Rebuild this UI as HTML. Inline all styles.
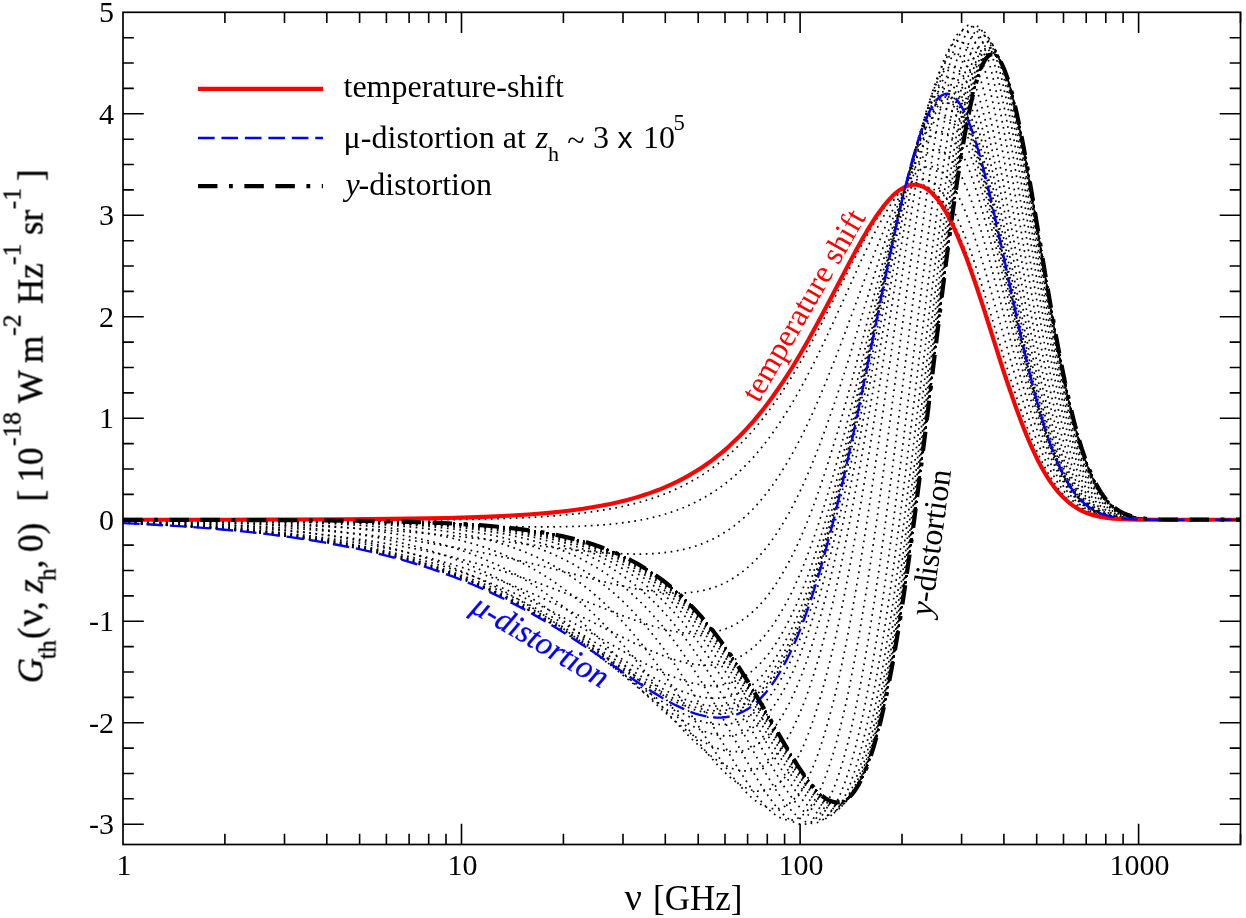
<!DOCTYPE html>
<html><head><meta charset="utf-8"><title>chart</title>
<style>html,body{margin:0;padding:0;background:#fff;overflow:hidden}svg{display:block}</style></head>
<body>
<svg width="1246" height="918" viewBox="0 0 1246 918">
<rect width="1246" height="918" fill="#fff"/>
<defs><clipPath id="c"><rect x="123.0" y="12.3" width="1117.5" height="832.2"/></clipPath></defs>
<g clip-path="url(#c)" fill="none" stroke-linejoin="round">
<g stroke="#000" stroke-width="1.70" stroke-dasharray="1.70 4.55" stroke-dashoffset="0.85">
<path d="M123 523.1l24.3 1.1l23.1 1.3l21.1 1.4l21 1.6l21.1 1.8l18.9 2l19 2.1l16.8 2.2l16.9 2.4l16.8 2.7l16.8 3l14.8 2.9l14.7 3.2l14.7 3.4l8.5 2.2l6.3 1.7l8.4 2.3l6.3 1.8l8.4 2.6l6.3 2l8.5 2.8l6.3 2.1l8.4 3.1l6.3 2.3l12.6 5l8.4 3.5l6.4 2.8l6.3 2.8l6.3 2.9l6.3 3l6.3 3.1l6.3 3.2l6.3 3.3l10.6 5.7l12.6 7.2l12.6 7.5l12.7 7.8l10.5 6.7l10.5 6.9l33.7 22.7l10.5 7l8.4 5.4l8.4 5.3l8.5 5l6.3 3.6l4.2 2.2l4.2 2.1l6.3 3l4.2 1.8l4.2 1.6l4.2 1.5l4.2 1.2l4.3 1.1l4.2 0.8l4.2 0.5l4.2 0.3l4.2 0l2.1-0.1l2.1-0.2l2.1-0.2l2.1-0.4l2.1-0.4l2.1-0.6l2.1-0.6l2.1-0.8l2.1-0.8l2.1-0.9l2.1-1.1l2.2-1.2l2.1-1.2l2.1-1.4l2.1-1.5l2.1-1.7l2.1-1.8l2.1-1.9l2.1-2l2.1-2.2l2.1-2.3l2.1-2.4l2.1-2.6l2.1-2.8l2.1-2.9l2.1-3.1l2.1-3.2l2.1-3.4l2.1-3.6l2.1-3.7l2.1-3.9l2.1-4.1l4.3-8.7l4.2-9.4l4.2-10.2l4.2-10.9l4.2-11.7l2.1-6.1l2.1-6.4l4.2-13.2l4.2-14.1l4.2-14.8l4.2-15.6l4.3-16.3l4.2-17l4.2-17.7l4.2-18.4l4.2-18.9l4.2-19.4l4.2-19.9l6.3-30.4l19-92.9l4.2-20.1l4.2-19.8l4.2-19l4.2-18.4l4.2-17.4l4.2-16.3l2.1-7.7l2.1-7.4l2.1-7.1l2.1-6.6l2.1-6.3l2.2-6l2.1-5.4l2.1-5.1l2.1-4.6l2.1-4.2l2.1-3.7l2.1-3.2l2.1-2.7l2.1-2.2l2.1-1.7l2.1-1.2l2.1-0.7l2.1-0.2l2.1 0.4l2.1 0.9l2.1 1.5l2.1 1.9l2.1 2.5l2.1 3l2.1 3.5l2.2 3.9l2.1 4.5l2.1 4.9l2.1 5.4l2.1 5.9l2.1 6.2l2.1 6.7l2.1 7l2.1 7.4l2.1 7.8l2.1 8l4.2 17l4.2 17.9l4.2 18.6l4.2 19.2l12.7 58.3l4.2 19.1l4.2 18.5l4.2 17.8l4.2 17l4.2 16.1l2.1 7.6l4.2 14.5l2.1 6.8l2.1 6.6l2.1 6.2l2.1 6l2.2 5.7l2.1 5.3l2.1 5.1l2.1 4.8l2.1 4.5l2.1 4.3l2.1 4l2.1 3.7l2.1 3.5l2.1 3.2l2.1 3l2.1 2.8l2.1 2.5l2.1 2.4l2.1 2.2l2.1 1.9l2.1 1.8l2.1 1.7l2.1 1.5l2.1 1.3l2.1 1.2l2.2 1.1l2.1 1l2.1 0.9l2.1 0.8l4.2 1.3l2.1 0.6l4.2 0.9l2.1 0.3l4.2 0.6l6.3 0.7l8.4 0.5l8.5 0.2l10.5 0.2l12.6 0l74.5 0"/>
<path d="M123 523l24.3 1.1l23.1 1.3l21.1 1.4l21 1.6l21.1 1.8l18.9 1.9l19 2.1l16.8 2.2l16.9 2.4l16.8 2.6l16.8 3l14.8 2.9l14.7 3.1l14.7 3.4l8.5 2.2l6.3 1.6l8.4 2.3l6.3 1.8l8.4 2.6l6.3 1.9l8.5 2.8l6.3 2.1l8.4 3l6.3 2.4l12.6 4.9l8.4 3.5l6.4 2.7l6.3 2.8l6.3 2.8l6.3 3l6.3 3.1l6.3 3.1l6.3 3.3l10.6 5.6l12.6 7.1l10.5 6.1l12.7 7.7l10.5 6.6l12.6 8.2l33.7 22.3l10.5 6.8l8.4 5.4l8.4 5.2l8.5 4.9l6.3 3.5l4.2 2.2l4.2 2.1l6.3 2.9l4.2 1.7l4.2 1.6l4.2 1.4l4.2 1.2l4.3 1l4.2 0.8l4.2 0.5l4.2 0.3l4.2-0.1l4.2-0.3l2.1-0.3l2.1-0.4l2.1-0.4l2.1-0.6l2.1-0.6l2.1-0.8l2.1-0.8l2.1-1l2.1-1.1l2.2-1.1l2.1-1.3l2.1-1.4l2.1-1.6l2.1-1.6l2.1-1.8l2.1-1.9l2.1-2l2.1-2.2l2.1-2.3l2.1-2.5l2.1-2.6l2.1-2.8l2.1-2.9l2.1-3l2.1-3.3l2.1-3.3l2.1-3.6l2.1-3.7l2.1-3.9l2.1-4.1l4.3-8.7l4.2-9.3l4.2-10.2l4.2-10.9l4.2-11.6l2.1-6.2l2.1-6.3l4.2-13.2l4.2-13.9l4.2-14.8l4.2-15.5l4.3-16.2l4.2-16.9l4.2-17.6l6.3-27.6l4.2-19l4.2-19.5l8.4-40.2l19-92.1l4.2-20l4.2-19.6l4.2-18.9l4.2-18.2l4.2-17.2l4.2-16.2l2.1-7.6l2.1-7.3l2.1-7l2.1-6.6l2.1-6.2l2.2-5.8l2.1-5.5l2.1-4.9l2.1-4.6l2.1-4.1l2.1-3.6l2.1-3.2l2.1-2.6l2.1-2.2l2.1-1.7l2.1-1.1l2.1-0.6l2.1-0.1l2.1 0.4l2.1 0.9l2.1 1.5l2.1 2l2.1 2.5l2.1 3l2.1 3.5l2.2 4l2.1 4.5l2.1 4.9l2.1 5.4l2.1 5.8l2.1 6.3l2.1 6.7l2.1 7l2.1 7.4l2.1 7.7l2.1 8l4.2 17l4.2 17.8l4.2 18.6l4.2 19.1l12.7 58.1l4.2 18.9l4.2 18.5l4.2 17.7l4.2 16.9l4.2 16l2.1 7.6l4.2 14.5l2.1 6.8l2.1 6.5l2.1 6.2l2.1 5.9l2.2 5.6l2.1 5.4l2.1 5l2.1 4.8l2.1 4.5l2.1 4.3l2.1 3.9l2.1 3.7l2.1 3.5l2.1 3.2l2.1 3l2.1 2.7l2.1 2.6l2.1 2.3l2.1 2.2l2.1 1.9l2.1 1.8l2.1 1.7l2.1 1.4l2.1 1.4l2.1 1.2l2.2 1.1l2.1 1l2.1 0.8l2.1 0.8l4.2 1.3l2.1 0.6l4.2 0.9l2.1 0.3l4.2 0.6l6.3 0.7l8.4 0.5l8.5 0.2l10.5 0.2l12.6 0l74.5 0"/>
<path d="M123 523l24.3 1.1l23.1 1.2l21.1 1.4l21 1.5l21.1 1.8l18.9 1.9l19 2.1l16.8 2.1l16.9 2.3l16.8 2.6l16.8 2.9l14.8 2.8l14.7 3.1l14.7 3.4l14.8 3.7l8.4 2.3l6.3 1.7l8.4 2.5l6.3 2l8.5 2.6l6.3 2.2l8.4 2.9l6.3 2.3l12.6 4.8l8.4 3.4l6.4 2.7l6.3 2.7l6.3 2.8l6.3 2.9l6.3 3l12.6 6.3l10.6 5.5l12.6 6.9l10.5 6.1l12.7 7.5l10.5 6.4l12.6 8l31.6 20.4l10.5 6.7l8.4 5.3l8.4 5.1l8.5 4.8l6.3 3.4l4.2 2.2l4.2 2.1l6.3 2.9l4.2 1.7l4.2 1.6l4.2 1.4l4.2 1.3l4.3 1l4.2 0.8l4.2 0.6l4.2 0.3l4.2 0.1l4.2-0.3l2.1-0.2l2.1-0.3l2.1-0.4l2.1-0.5l2.1-0.6l2.1-0.7l2.1-0.7l2.1-0.9l2.1-1l2.1-1.1l2.2-1.2l2.1-1.3l2.1-1.4l2.1-1.6l2.1-1.6l2.1-1.8l2.1-1.9l2.1-2.1l2.1-2.2l2.1-2.3l2.1-2.4l2.1-2.7l2.1-2.7l2.1-2.9l2.1-3.1l2.1-3.2l2.1-3.4l2.1-3.5l2.1-3.8l2.1-3.8l4.3-8.3l4.2-9l4.2-9.7l4.2-10.5l4.2-11.2l4.2-11.9l2.1-6.3l4.2-13.1l4.2-13.9l4.2-14.6l4.2-15.3l4.3-16.1l4.2-16.8l4.2-17.4l6.3-27.2l4.2-18.9l4.2-19.3l8.4-39.7l19-90.9l4.2-19.8l4.2-19.2l4.2-18.7l4.2-17.9l4.2-16.9l4.2-15.9l2.1-7.5l2.1-7.2l2.1-6.8l2.1-6.5l2.1-6.1l2.2-5.7l2.1-5.3l2.1-4.9l2.1-4.4l2.1-4l2.1-3.5l2.1-3.1l2.1-2.6l2.1-2l2.1-1.6l2.1-1.1l2.1-0.5l2.1-0.1l2.1 0.5l2.1 1l2.1 1.5l2.1 2.1l2.1 2.5l2.1 3.1l2.1 3.5l2.2 4l2.1 4.5l2.1 5l2.1 5.4l2.1 5.8l2.1 6.3l2.1 6.6l2.1 7l2.1 7.4l4.2 15.7l4.2 16.9l4.2 17.7l4.2 18.5l4.2 19l12.7 57.7l4.2 18.9l4.2 18.2l4.2 17.7l4.2 16.8l4.2 15.8l2.1 7.6l4.2 14.3l2.1 6.7l2.1 6.4l2.1 6.2l2.1 5.9l2.2 5.6l2.1 5.3l2.1 5l2.1 4.7l2.1 4.5l2.1 4.2l2.1 3.9l2.1 3.7l2.1 3.4l2.1 3.2l2.1 2.9l2.1 2.8l2.1 2.5l2.1 2.3l2.1 2.1l2.1 2l2.1 1.8l2.1 1.6l2.1 1.4l2.1 1.4l2.1 1.2l2.2 1.1l2.1 0.9l2.1 0.9l2.1 0.8l4.2 1.3l2.1 0.5l4.2 0.9l2.1 0.4l4.2 0.6l6.3 0.6l8.4 0.5l8.5 0.2l10.5 0.2l12.6 0l74.5 0"/>
<path d="M123 522.9l22.2 0.9l23.1 1.2l21.1 1.3l21 1.5l21.1 1.7l18.9 1.8l19 2l16.8 2l16.9 2.2l16.8 2.5l16.8 2.8l14.8 2.7l14.7 2.9l14.7 3.2l14.8 3.6l8.4 2.1l6.3 1.7l8.4 2.4l6.3 1.8l8.4 2.6l6.4 2l8.4 2.8l6.3 2.2l12.6 4.6l8.4 3.3l6.4 2.5l12.6 5.3l12.6 5.7l12.6 6l10.6 5.2l12.6 6.7l10.5 5.7l12.6 7.2l10.6 6.2l12.6 7.6l33.7 20.8l10.5 6.5l8.4 5l8.4 4.8l8.5 4.6l6.3 3.3l4.2 2l4.2 2l6.3 2.6l4.2 1.7l4.2 1.4l4.2 1.3l4.2 1.2l4.3 0.9l4.2 0.7l4.2 0.5l4.2 0.2l4.2-0.1l4.2-0.3l2.1-0.3l2.1-0.4l2.1-0.4l2.1-0.5l2.1-0.7l2.1-0.7l2.1-0.8l2.1-0.9l2.1-1l2.1-1.2l2.2-1.2l2.1-1.3l2.1-1.5l2.1-1.5l2.1-1.7l2.1-1.8l2.1-2l2.1-2l2.1-2.2l2.1-2.4l2.1-2.4l2.1-2.7l2.1-2.7l2.1-2.9l2.1-3.1l2.1-3.2l2.1-3.4l2.1-3.5l2.1-3.7l2.1-3.9l4.3-8.2l4.2-8.9l4.2-9.6l4.2-10.4l4.2-11.1l4.2-11.8l2.1-6.2l4.2-12.9l4.2-13.7l4.2-14.4l4.2-15.1l4.3-15.8l4.2-16.5l4.2-17.1l6.3-26.8l4.2-18.5l4.2-19l8.4-38.9l19-89l4.2-19.3l4.2-18.7l4.2-18.2l4.2-17.4l4.2-16.5l4.2-15.5l2.1-7.3l2.1-6.9l2.1-6.6l2.1-6.3l2.1-5.9l2.2-5.5l2.1-5.1l2.1-4.7l2.1-4.3l2.1-3.8l2.1-3.3l2.1-2.9l2.1-2.4l2.1-1.9l2.1-1.5l2.1-0.9l2.1-0.4l2.1 0.1l2.1 0.5l2.1 1.1l2.1 1.6l2.1 2.2l2.1 2.6l2.1 3.1l2.1 3.6l2.2 4l2.1 4.6l2.1 4.9l2.1 5.5l2.1 5.8l2.1 6.3l2.1 6.6l2.1 7l2.1 7.3l4.2 15.7l4.2 16.7l4.2 17.6l4.2 18.4l16.9 75.8l4.2 18.6l4.2 18.1l4.2 17.4l4.2 16.6l4.2 15.6l2.1 7.5l4.2 14.1l2.1 6.6l2.1 6.4l2.1 6l2.1 5.8l2.2 5.5l2.1 5.3l2.1 4.9l2.1 4.7l2.1 4.4l2.1 4.1l2.1 3.9l2.1 3.6l2.1 3.3l2.1 3.2l2.1 2.9l2.1 2.7l2.1 2.5l2.1 2.2l2.1 2.1l2.1 1.9l2.1 1.8l2.1 1.6l2.1 1.4l2.1 1.3l2.1 1.2l2.2 1.1l2.1 0.9l2.1 0.9l2.1 0.8l4.2 1.2l2.1 0.6l4.2 0.8l2.1 0.4l4.2 0.6l6.3 0.6l8.4 0.5l8.5 0.2l10.5 0.2l12.6 0l74.5 0"/>
<path d="M123 522.7l22.2 0.9l23.1 1.2l21.1 1.2l21 1.4l21.1 1.6l18.9 1.7l19 1.9l16.8 1.9l16.9 2.1l16.8 2.3l16.8 2.6l14.8 2.6l14.7 2.8l14.7 3l14.8 3.4l12.6 3.1l8.4 2.2l6.3 1.7l8.4 2.4l6.4 1.9l8.4 2.6l6.3 2l12.6 4.3l8.4 3l6.4 2.4l12.6 5l12.6 5.2l12.6 5.6l10.6 4.9l12.6 6.2l10.5 5.3l12.6 6.7l10.6 5.8l12.6 7.1l42.1 24.1l8.4 4.7l8.4 4.6l8.4 4.3l8.5 4l4.2 1.9l4.2 1.8l6.3 2.5l4.2 1.5l4.2 1.3l4.2 1.2l4.2 1l4.2 0.8l4.3 0.7l4.2 0.4l4.2 0.1l4.2 0l4.2-0.4l4.2-0.7l2.1-0.4l2.1-0.5l2.1-0.6l2.1-0.7l2.1-0.8l2.1-0.9l2.1-1l2.1-1.1l2.1-1.1l2.2-1.3l2.1-1.4l2.1-1.5l2.1-1.6l2.1-1.7l2.1-1.9l2.1-1.9l2.1-2.1l2.1-2.3l2.1-2.3l2.1-2.5l2.1-2.6l2.1-2.8l2.1-2.9l2.1-3l2.1-3.3l2.1-3.3l4.2-7.2l4.2-7.8l4.3-8.5l4.2-9.1l4.2-9.8l4.2-10.6l4.2-11.2l2.1-5.9l4.2-12.3l4.2-13l4.2-13.7l4.2-14.4l4.2-15.1l4.3-15.7l4.2-16.4l4.2-16.9l4.2-17.5l4.2-17.9l4.2-18.3l8.4-37.7l16.9-76.4l6.3-27.9l4.2-18.1l4.2-17.4l4.2-16.6l4.2-15.8l4.2-14.7l2.1-6.9l2.1-6.6l2.1-6.3l2.1-5.9l2.1-5.6l2.2-5.1l2.1-4.8l2.1-4.4l2.1-4l2.1-3.5l2.1-3l2.1-2.7l2.1-2.1l2.1-1.7l2.1-1.2l2.1-0.7l2.1-0.2l2.1 0.3l2.1 0.7l2.1 1.3l2.1 1.7l2.1 2.3l2.1 2.7l2.1 3.2l2.1 3.7l2.2 4.1l2.1 4.6l2.1 5l2.1 5.5l2.1 5.8l2.1 6.2l2.1 6.7l2.1 6.9l2.1 7.3l4.2 15.5l4.2 16.6l4.2 17.4l4.2 18l16.9 74.6l4.2 18.2l4.2 17.7l4.2 17l4.2 16.2l4.2 15.3l2.1 7.3l4.2 13.8l2.1 6.5l2.1 6.2l2.1 5.9l2.1 5.7l2.2 5.4l2.1 5.1l2.1 4.8l2.1 4.5l2.1 4.3l2.1 4l2.1 3.8l2.1 3.5l2.1 3.3l2.1 3.1l2.1 2.8l2.1 2.6l2.1 2.4l2.1 2.3l2.1 2l2.1 1.9l2.1 1.7l2.1 1.5l2.1 1.4l2.1 1.3l2.1 1.2l2.2 1l2.1 0.9l2.1 0.9l2.1 0.7l4.2 1.2l2.1 0.6l4.2 0.8l2.1 0.4l4.2 0.5l6.3 0.6l8.4 0.5l8.5 0.2l10.5 0.2l12.6 0l74.5 0"/>
<path d="M123 522.4l22.2 0.9l21 0.9l21.1 1.1l21 1.2l19 1.3l18.9 1.5l19 1.7l16.8 1.7l16.8 1.8l14.8 1.8l16.8 2.3l14.7 2.2l14.8 2.4l14.7 2.7l14.7 2.9l12.7 2.7l14.7 3.4l14.7 3.7l14.8 4.1l12.6 3.7l8.4 2.7l6.3 2l12.7 4.4l12.6 4.5l12.6 4.9l10.5 4.3l12.7 5.4l12.6 5.6l12.6 5.9l10.6 5.1l10.5 5.1l44.2 22.3l8.4 4.1l8.4 4l8.4 3.7l8.5 3.6l4.2 1.6l4.2 1.6l6.3 2.1l4.2 1.3l4.2 1.1l4.2 1.1l4.2 0.8l4.2 0.7l4.2 0.5l4.3 0.3l4.2 0.2l4.2-0.2l4.2-0.3l4.2-0.7l2.1-0.4l4.2-1.1l4.2-1.3l4.2-1.7l2.1-1l2.1-1.1l2.1-1.2l2.1-1.2l2.2-1.4l2.1-1.5l2.1-1.6l2.1-1.6l2.1-1.8l2.1-1.9l2.1-2l2.1-2.2l2.1-2.2l2.1-2.4l2.1-2.5l2.1-2.7l2.1-2.7l2.1-2.9l4.2-6.3l4.2-6.8l4.2-7.4l4.3-7.9l4.2-8.7l4.2-9.2l4.2-9.9l4.2-10.6l4.2-11.2l4.2-11.9l4.2-12.5l4.2-13.2l4.2-13.8l4.2-14.4l4.3-15.1l4.2-15.6l6.3-24.3l4.2-16.8l4.2-17.3l8.4-35.3l19-80.8l4.2-17.5l4.2-17l4.2-16.5l4.2-15.8l4.2-15l4.2-14.1l2.1-6.6l2.1-6.3l2.1-6l2.1-5.7l2.1-5.4l2.1-5l2.2-4.6l2.1-4.3l2.1-3.8l2.1-3.5l2.1-3l2.1-2.7l2.1-2.1l2.1-1.8l2.1-1.2l2.1-0.9l2.1-0.3l2.1 0.1l2.1 0.6l2.1 1l2.1 1.6l2.1 2l2.1 2.4l2.1 2.9l2.1 3.4l2.1 3.8l2.2 4.2l2.1 4.7l2.1 5.1l2.1 5.5l2.1 5.8l2.1 6.3l2.1 6.5l2.1 7l4.2 14.7l4.2 15.8l4.2 16.6l4.2 17.4l4.2 17.8l14.8 63.4l6.3 26.3l4.2 16.8l4.2 16l4.2 15.2l2.1 7.2l4.2 13.8l2.1 6.5l2.1 6.2l2.1 6l2.1 5.7l2.1 5.4l2.2 5.2l2.1 4.9l2.1 4.6l2.1 4.4l2.1 4.1l2.1 3.8l2.1 3.6l2.1 3.4l2.1 3.2l2.1 2.9l2.1 2.7l2.1 2.5l2.1 2.3l2.1 2.1l2.1 2l2.1 1.8l2.1 1.6l2.1 1.5l2.1 1.3l2.1 1.3l2.1 1.1l2.2 0.9l2.1 0.9l2.1 0.8l2.1 0.7l4.2 1.2l2.1 0.5l4.2 0.8l2.1 0.4l4.2 0.5l6.3 0.6l8.4 0.4l8.5 0.3l10.5 0.1l12.6 0l74.5 0"/>
<path d="M123 522l20.1 0.6l21 0.8l19 0.8l18.9 0.9l19 1.1l16.8 1l16.8 1.2l16.9 1.3l16.8 1.4l14.8 1.4l14.7 1.6l14.7 1.7l14.8 1.9l12.6 1.7l14.7 2.2l12.6 2.1l14.8 2.6l14.7 2.8l14.7 3.1l12.7 2.9l14.7 3.6l12.6 3.3l14.8 4.1l12.6 3.8l10.5 3.3l12.6 4.2l12.7 4.3l12.6 4.6l10.5 4l12.7 4.8l46.3 18.3l8.4 3.2l8.4 3.1l8.4 2.9l8.4 2.7l8.5 2.5l6.3 1.6l6.3 1.4l4.2 0.9l6.3 1l4.2 0.4l4.2 0.4l4.2 0.2l4.2 0l4.3-0.2l4.2-0.3l4.2-0.6l4.2-0.9l2.1-0.5l4.2-1.2l4.2-1.4l4.2-1.8l2.1-1l4.2-2.2l2.1-1.2l4.2-2.8l4.3-3.1l4.2-3.5l4.2-3.8l2.1-2.1l4.2-4.6l4.2-4.9l4.2-5.5l4.2-5.9l4.2-6.4l4.2-7l4.2-7.5l4.3-8l4.2-8.6l4.2-9.2l4.2-9.7l2.1-5.1l4.2-10.6l4.2-11.2l4.2-11.8l4.2-12.4l4.2-12.8l4.2-13.5l4.3-13.9l4.2-14.4l4.2-14.8l4.2-15.3l4.2-15.5l8.4-31.9l16.9-64.9l6.3-23.7l4.2-15.3l4.2-14.9l4.2-14.2l4.2-13.4l4.2-12.6l2.1-5.9l2.1-5.7l2.1-5.4l2.1-5.1l2.1-4.8l2.1-4.4l2.1-4.2l2.2-3.7l2.1-3.5l2.1-3l2.1-2.7l2.1-2.3l2.1-1.9l2.1-1.4l2.1-1.1l2.1-0.6l2.1-0.3l2.1 0.3l2.1 0.6l2.1 1.1l2.1 1.5l2.1 1.9l2.1 2.4l2.1 2.8l2.1 3.2l2.1 3.6l2.1 4.1l2.2 4.4l2.1 4.8l2.1 5.2l2.1 5.5l2.1 5.9l2.1 6.2l2.1 6.5l2.1 6.8l4.2 14.5l4.2 15.3l4.2 16.2l4.2 16.7l16.9 68.9l4.2 16.9l4.2 16.5l4.2 15.8l4.2 15.1l4.2 14.2l2.1 6.9l4.2 12.8l2.1 6.1l2.1 5.9l2.1 5.5l2.1 5.4l2.1 5l2.2 4.9l2.1 4.5l2.1 4.3l2.1 4.1l2.1 3.8l2.1 3.6l2.1 3.4l2.1 3.1l2.1 2.9l2.1 2.8l2.1 2.5l2.1 2.3l2.1 2.2l2.1 1.9l2.1 1.8l2.1 1.7l2.1 1.5l2.1 1.4l2.1 1.2l2.1 1.2l2.1 1l2.2 0.9l2.1 0.8l2.1 0.7l4.2 1.3l2.1 0.5l4.2 0.9l2.1 0.3l4.2 0.6l6.3 0.6l8.4 0.5l8.5 0.2l10.5 0.2l12.6 0l76.6 0"/>
<path d="M123 521.4l22.2 0.5l21 0.6l21.1 0.7l18.9 0.7l19 0.8l18.9 0.9l19 1l16.8 1l16.8 1.1l14.8 1.1l16.8 1.4l14.7 1.3l14.8 1.5l14.7 1.6l14.7 1.7l12.7 1.6l12.6 1.7l10.5 1.6l10.5 1.6l10.6 1.7l10.5 1.8l10.5 2l10.5 2l10.6 2.1l10.5 2.2l10.5 2.3l10.5 2.4l12.7 2.9l21 5.2l46.3 11.8l10.5 2.6l10.6 2.4l10.5 2.3l10.5 2l6.3 1l4.2 0.6l8.5 1.1l4.2 0.3l4.2 0.3l4.2 0.2l4.2 0.1l4.2 0l4.2-0.2l4.2-0.2l4.2-0.5l4.2-0.6l4.3-0.7l4.2-0.9l2.1-0.6l4.2-1.2l4.2-1.4l4.2-1.7l2.1-0.9l4.2-2l2.1-1.1l4.2-2.4l4.2-2.7l2.1-1.5l4.2-3.1l4.3-3.5l2.1-1.9l4.2-3.9l4.2-4.3l4.2-4.7l4.2-5.1l2.1-2.7l4.2-5.7l4.2-6.1l4.2-6.6l4.2-7l4.3-7.4l4.2-7.9l4.2-8.4l4.2-8.9l4.2-9.3l4.2-9.8l4.2-10.3l4.2-10.7l4.2-11.2l4.2-11.6l4.2-12.1l4.3-12.4l4.2-12.7l4.2-13.1l4.2-13.4l8.4-27.4l16.8-55.4l4.3-13.6l4.2-13.3l6.3-19.2l4.2-12.2l4.2-11.5l4.2-10.8l2.1-5l2.1-4.9l2.1-4.6l2.1-4.4l2.1-4.1l2.1-3.8l2.1-3.5l2.1-3.3l2.1-2.9l2.2-2.6l2.1-2.3l2.1-2l2.1-1.6l2.1-1.2l2.1-0.9l2.1-0.6l2.1-0.1l2.1 0.2l2.1 0.6l2.1 1l2.1 1.4l2.1 1.7l2.1 2.1l2.1 2.6l2.1 2.8l2.1 3.3l2.1 3.6l2.1 4l2.1 4.3l2.2 4.7l2.1 5l2.1 5.3l2.1 5.6l2.1 5.9l2.1 6.2l2.1 6.5l4.2 13.6l4.2 14.4l4.2 15.1l4.2 15.6l16.9 64.5l4.2 15.8l4.2 15.4l4.2 14.8l4.2 14.2l4.2 13.4l2.1 6.4l4.2 12.2l2.1 5.7l2.1 5.6l2.1 5.2l2.1 5.1l2.1 4.8l2.1 4.6l2.2 4.3l2.1 4.2l2.1 3.9l2.1 3.6l2.1 3.5l2.1 3.2l2.1 3l2.1 2.8l2.1 2.7l2.1 2.4l2.1 2.3l2.1 2l2.1 2l2.1 1.7l2.1 1.6l2.1 1.5l2.1 1.4l2.1 1.2l2.1 1.1l2.1 1l2.1 0.9l4.3 1.6l2.1 0.6l4.2 1.1l2.1 0.5l4.2 0.7l6.3 0.9l6.3 0.5l8.4 0.4l8.5 0.3l10.5 0.1l12.6 0l76.6 0"/>
<path d="M123 520.8l36.9 0.5l35.8 0.7l33.7 0.9l31.6 1l29.4 1.1l27.4 1.2l27.3 1.4l25.3 1.6l21.1 1.4l18.9 1.5l18.9 1.6l19 1.8l21 2.1l23.2 2.6l21 2.4l46.3 5.6l21.1 2.3l12.6 1.3l10.5 0.9l10.6 0.7l10.5 0.5l6.3 0.1l6.3 0.1l6.3-0.1l6.3-0.2l6.4-0.4l4.2-0.4l6.3-0.7l4.2-0.6l6.3-1.1l4.2-0.8l4.2-1l4.2-1.2l4.2-1.2l4.2-1.4l4.3-1.6l4.2-1.8l4.2-1.9l2.1-1l4.2-2.2l4.2-2.4l2.1-1.3l4.2-2.7l4.2-3l2.1-1.5l4.2-3.4l4.2-3.6l2.2-1.9l4.2-4l4.2-4.2l2.1-2.3l4.2-4.7l4.2-5.1l4.2-5.3l4.2-5.7l2.1-3l4.2-6.2l4.2-6.6l4.2-6.9l4.3-7.3l4.2-7.7l4.2-8l4.2-8.4l4.2-8.7l4.2-9.1l4.2-9.4l6.3-14.8l4.2-10.2l4.2-10.6l4.3-10.7l4.2-11l8.4-22.5l18.9-51.5l4.2-11.2l4.2-11l6.4-15.8l4.2-10.1l4.2-9.5l4.2-8.9l2.1-4.2l2.1-4l2.1-3.8l2.1-3.7l2.1-3.4l2.1-3.2l2.1-2.9l2.1-2.7l2.1-2.5l2.1-2.2l2.1-1.9l2.1-1.6l2.2-1.4l2.1-1l2.1-0.8l2.1-0.4l2.1-0.1l2.1 0.2l2.1 0.5l2.1 0.8l2.1 1.2l2.1 1.5l2.1 1.8l2.1 2.2l2.1 2.5l2.1 2.8l2.1 3.1l2.1 3.5l2.1 3.7l2.1 4.1l2.1 4.4l2.1 4.6l2.2 4.9l2.1 5.2l2.1 5.5l4.2 11.6l4.2 12.6l4.2 13.2l4.2 13.9l4.2 14.4l4.2 14.8l14.8 52.4l6.3 21.7l4.2 14l4.2 13.4l4.2 12.7l4.2 12.1l4.2 11.2l4.2 10.5l2.1 4.9l2.1 4.7l2.1 4.5l2.1 4.2l2.1 4.1l2.2 3.8l2.1 3.6l2.1 3.5l2.1 3.2l2.1 3l2.1 2.8l2.1 2.7l2.1 2.5l2.1 2.3l2.1 2.1l2.1 2l2.1 1.8l2.1 1.7l2.1 1.5l2.1 1.4l2.1 1.3l2.1 1.2l2.1 1l2.1 1l2.1 0.9l4.3 1.5l2.1 0.6l4.2 1.1l4.2 0.8l4.2 0.6l6.3 0.8l6.3 0.4l8.4 0.4l8.5 0.2l23.1 0.1l76.6 0"/>
<path d="M123 520.2l51.7 0.3l46.3 0.4l44.2 0.5l42.1 0.6l31.5 0.6l31.6 0.7l35.8 0.8l73.7 1.9l18.9 0.4l16.8 0.3l14.8 0.1l14.7 0.1l12.6-0.1l10.6-0.2l10.5-0.3l8.4-0.4l8.4-0.5l8.4-0.6l8.5-0.8l8.4-0.9l8.4-1.2l6.3-1l8.4-1.5l6.3-1.4l6.4-1.5l6.3-1.7l6.3-2l6.3-2.1l6.3-2.4l4.2-1.7l6.3-2.9l6.3-3.1l6.4-3.5l4.2-2.5l6.3-4l6.3-4.5l6.3-4.8l4.2-3.5l6.3-5.6l4.2-4.1l4.3-4.2l2.1-2.2l4.2-4.6l4.2-4.8l2.1-2.5l4.2-5.2l4.2-5.5l4.2-5.7l6.3-9l4.2-6.4l4.2-6.7l4.3-6.9l4.2-7.2l4.2-7.4l4.2-7.7l6.3-12l4.2-8.3l4.2-8.5l4.2-8.7l6.3-13.5l8.5-18.3l18.9-42.1l6.3-13.7l4.2-8.9l4.2-8.7l4.2-8.3l4.3-8l4.2-7.5l4.2-7.1l2.1-3.2l2.1-3.2l2.1-3l2.1-2.8l2.1-2.6l2.1-2.4l2.1-2.2l2.1-2.1l2.1-1.8l2.1-1.6l2.1-1.3l2.1-1.2l2.1-0.9l2.1-0.6l2.1-0.4l2.2-0.1l2.1 0.1l2.1 0.4l2.1 0.7l2.1 1l2.1 1.2l2.1 1.5l2.1 1.8l2.1 2.1l2.1 2.3l2.1 2.7l2.1 2.9l2.1 3.2l2.1 3.4l2.1 3.8l2.1 3.9l2.1 4.3l2.1 4.5l2.1 4.7l2.1 5l4.3 10.6l4.2 11.3l2.1 6l4.2 12.4l4.2 13l4.2 13.4l4.2 13.7l14.7 48.7l4.3 13.7l4.2 13.3l4.2 12.8l4.2 12.3l4.2 11.8l4.2 11l4.2 10.4l4.2 9.6l2.1 4.5l2.1 4.3l2.1 4.1l2.1 4l2.1 3.7l2.1 3.5l2.2 3.4l2.1 3.2l2.1 2.9l2.1 2.8l2.1 2.7l2.1 2.4l2.1 2.3l2.1 2.1l2.1 2l2.1 1.9l2.1 1.7l2.1 1.5l2.1 1.5l2.1 1.3l2.1 1.2l2.1 1.1l2.1 1l4.2 1.7l2.1 0.8l4.3 1.2l2.1 0.6l4.2 0.9l2.1 0.4l4.2 0.6l6.3 0.7l6.3 0.4l8.4 0.4l10.6 0.2l23.1 0.1l76.6 0"/>
<path d="M123 519.8l215.8 0.3l44.2 0l33.7-0.1l33.7-0.3l29.5-0.5l25.2-0.7l12.6-0.5l10.6-0.5l12.6-0.7l10.5-0.7l10.5-0.9l10.6-1l10.5-1.2l8.4-1.1l10.5-1.6l8.4-1.4l8.5-1.6l8.4-1.9l8.4-2.1l6.3-1.7l8.4-2.6l6.4-2.1l4.2-1.5l4.2-1.6l6.3-2.6l6.3-2.9l6.3-3l6.3-3.4l6.3-3.6l6.4-3.9l6.3-4.2l6.3-4.6l4.2-3.2l6.3-5.2l4.2-3.7l6.3-5.9l4.2-4.1l6.4-6.6l4.2-4.6l6.3-7.4l4.2-5.1l6.3-8.2l4.2-5.7l4.2-6l4.2-6.1l4.2-6.4l6.4-10l4.2-6.9l6.3-10.8l4.2-7.4l4.2-7.7l4.2-7.8l6.3-11.9l10.5-20.6l19-37.6l6.3-12.2l4.2-8l4.2-7.7l4.2-7.5l4.2-7.2l4.3-6.7l4.2-6.4l2.1-2.9l2.1-2.9l2.1-2.7l2.1-2.5l2.1-2.4l2.1-2.3l2.1-2l2.1-1.9l2.1-1.7l2.1-1.5l2.1-1.3l2.1-1.1l2.1-0.8l2.1-0.7l2.1-0.4l2.1-0.2l2.1 0l2.1 0.3l2.2 0.5l2.1 0.8l2.1 1l2.1 1.3l2.1 1.5l2.1 1.8l2.1 2l2.1 2.3l2.1 2.6l2.1 2.8l2.1 3.1l2.1 3.3l2.1 3.5l2.1 3.8l2.1 4.1l2.1 4.3l2.1 4.5l2.1 4.7l4.2 10l4.3 10.8l2.1 5.7l4.2 11.8l4.2 12.4l6.3 19.3l18.9 60.2l6.4 19.6l4.2 12.6l4.2 12.2l4.2 11.6l4.2 11l4.2 10.3l2.1 4.9l4.2 9.3l2.1 4.4l2.1 4.2l2.1 4l2.1 3.8l2.1 3.7l2.1 3.4l2.1 3.3l2.2 3.1l2.1 2.9l2.1 2.7l2.1 2.6l2.1 2.4l2.1 2.3l2.1 2.1l2.1 1.9l2.1 1.8l2.1 1.7l2.1 1.6l2.1 1.4l2.1 1.3l2.1 1.2l2.1 1.1l2.1 1l4.2 1.8l2.1 0.7l4.2 1.3l2.2 0.5l4.2 1l2.1 0.4l4.2 0.6l6.3 0.7l6.3 0.5l8.4 0.4l10.5 0.2l23.2 0.1l78.7 0"/>
<path d="M123 522.1l24.3 0.9l23.1 1.1l23.2 1.3l21 1.4l21.1 1.7l18.9 1.8l19 2l10.5 1.3l8.4 1.1l10.6 1.4l8.4 1.3l8.4 1.3l8.4 1.4l8.4 1.5l8.4 1.6l14.8 3l14.7 3.3l8.4 2.1l6.3 1.6l8.5 2.2l6.3 1.8l8.4 2.5l6.3 1.9l8.4 2.8l6.3 2.1l6.4 2.2l6.3 2.4l8.4 3.2l6.3 2.5l6.3 2.6l6.3 2.7l8.5 3.8l6.3 3l6.3 3l6.3 3.1l6.3 3.3l6.3 3.4l6.3 3.4l6.4 3.6l10.5 6.1l6.3 3.9l6.3 3.9l10.5 6.8l12.7 8.4l10.5 7.3l12.6 9l10.5 7.7l23.2 17l10.5 7.6l8.4 5.9l8.5 5.8l8.4 5.4l6.3 3.8l4.2 2.5l4.2 2.3l6.3 3.1l4.2 2l4.2 1.7l4.2 1.5l4.3 1.4l4.2 1.1l4.2 0.8l4.2 0.6l2.1 0.1l4.2 0.2l2.1-0.1l2.1-0.2l2.1-0.2l2.1-0.3l2.1-0.4l2.1-0.6l2.1-0.6l2.1-0.7l2.1-0.9l2.1-0.9l2.2-1.1l2.1-1.2l2.1-1.3l2.1-1.4l2.1-1.5l2.1-1.7l2.1-1.9l2.1-1.9l2.1-2.1l2.1-2.3l2.1-2.4l2.1-2.5l2.1-2.7l2.1-2.9l2.1-3l2.1-3.2l2.1-3.4l2.1-3.5l2.1-3.8l2.1-3.8l2.1-4.1l2.2-4.3l4.2-9.1l4.2-9.8l4.2-10.7l4.2-11.4l4.2-12.3l2.1-6.4l2.1-6.6l4.2-13.9l4.2-14.7l4.2-15.5l4.2-16.3l4.3-17.1l4.2-17.7l4.2-18.5l6.3-28.9l4.2-19.9l4.2-20.4l8.4-42l16.9-85.3l6.3-31.2l4.2-20.1l4.2-19.5l4.2-18.6l4.2-17.7l4.2-16.4l2.1-7.7l2.1-7.4l2.1-7.1l2.1-6.6l2.2-6.2l2.1-5.8l2.1-5.4l2.1-4.9l2.1-4.5l2.1-4l2.1-3.4l2.1-3l2.1-2.5l2.1-1.9l2.1-1.5l2.1-0.8l2.1-0.4l2.1 0.2l2.1 0.8l2.1 1.2l2.1 1.8l2.1 2.4l2.1 2.9l2.1 3.4l2.2 3.9l2.1 4.4l2.1 4.9l2.1 5.3l2.1 5.8l2.1 6.3l2.1 6.6l2.1 7.1l2.1 7.4l2.1 7.8l4.2 16.6l4.2 17.6l4.2 18.5l4.2 19.2l14.8 69l4.2 19.3l4.2 18.9l4.2 18.2l4.2 17.3l4.2 16.4l2.1 7.8l4.2 14.8l2.1 6.9l2.1 6.7l2.1 6.4l2.1 6.1l2.2 5.8l2.1 5.5l2.1 5.2l2.1 4.9l2.1 4.6l2.1 4.3l2.1 4.1l2.1 3.8l2.1 3.6l2.1 3.3l2.1 3l2.1 2.9l2.1 2.6l2.1 2.4l2.1 2.2l2.1 2l2.1 1.9l2.1 1.7l2.1 1.5l2.1 1.4l2.1 1.2l2.2 1.1l2.1 1l2.1 1l2.1 0.8l4.2 1.3l2.1 0.6l4.2 0.9l2.1 0.4l4.2 0.6l6.3 0.7l4.2 0.2l4.2 0.3l8.5 0.2l10.5 0.2l12.6 0l74.5 0"/>
<path d="M123 521l28.5 0.8l25.3 0.8l23.1 1l23.2 1.2l21 1.4l10.5 0.8l10.6 0.9l18.9 1.9l10.5 1.1l8.5 1l10.5 1.4l8.4 1.2l8.4 1.3l8.4 1.3l8.5 1.5l8.4 1.5l8.4 1.7l6.3 1.3l8.4 1.9l6.3 1.5l8.5 2.1l6.3 1.7l8.4 2.3l6.3 1.9l8.4 2.6l6.3 2l8.5 2.9l6.3 2.3l6.3 2.4l6.3 2.5l8.4 3.5l6.3 2.7l6.3 2.8l6.4 3l6.3 3.1l6.3 3.2l6.3 3.3l6.3 3.4l6.3 3.6l6.3 3.7l6.4 3.8l6.3 3.9l10.5 6.8l6.3 4.3l6.3 4.4l10.6 7.5l6.3 4.7l6.3 4.7l10.5 8.2l10.5 8.3l10.6 8.6l23.1 18.9l10.5 8.5l8.4 6.6l8.5 6.4l8.4 6l6.3 4.3l6.3 3.9l6.3 3.6l4.2 2.2l4.2 2l4.3 1.8l4.2 1.5l4.2 1.3l4.2 1l4.2 0.7l2.1 0.2l2.1 0.2l2.1 0l2.1 0l2.1-0.1l2.1-0.3l2.1-0.3l2.1-0.4l2.1-0.5l2.1-0.7l2.1-0.8l2.2-0.9l2.1-1l2.1-1.1l2.1-1.3l2.1-1.3l2.1-1.6l2.1-1.7l2.1-1.8l2.1-1.9l2.1-2.1l2.1-2.3l2.1-2.5l2.1-2.5l2.1-2.8l2.1-2.9l2.1-3.1l2.1-3.3l2.1-3.5l2.1-3.6l2.1-3.9l2.1-4l2.2-4.2l2.1-4.4l2.1-4.6l2.1-4.9l4.2-10.2l4.2-11.1l4.2-11.9l4.2-12.8l2.1-6.7l2.1-6.9l4.2-14.5l4.2-15.4l4.2-16.2l4.3-17l4.2-17.8l4.2-18.6l4.2-19.3l6.3-30.2l4.2-20.8l4.2-21.3l6.3-32.6l19-99.4l4.2-21.6l4.2-21l4.2-20.4l4.2-19.5l4.2-18.5l4.2-17.4l2.1-8.1l2.1-7.8l2.1-7.5l2.1-7l2.2-6.7l2.1-6.2l2.1-5.7l2.1-5.3l2.1-4.9l2.1-4.3l2.1-3.8l2.1-3.3l2.1-2.8l2.1-2.2l2.1-1.7l2.1-1.2l2.1-0.6l2.1 0l2.1 0.5l2.1 1.1l2.1 1.6l2.1 2.2l2.1 2.7l2.1 3.3l2.2 3.8l2.1 4.3l2.1 4.8l2.1 5.3l2.1 5.8l2.1 6.2l2.1 6.6l2.1 7.1l2.1 7.5l2.1 7.8l4.2 16.7l4.2 17.8l4.2 18.7l4.2 19.4l14.8 70.2l4.2 19.8l4.2 19.2l4.2 18.5l4.2 17.7l4.2 16.8l2.1 8l4.2 15.1l2.1 7.1l2.1 6.8l2.1 6.6l2.1 6.2l2.2 5.9l2.1 5.7l2.1 5.3l2.1 5l2.1 4.8l2.1 4.4l2.1 4.2l2.1 3.9l2.1 3.6l2.1 3.4l2.1 3.2l2.1 2.9l2.1 2.7l2.1 2.4l2.1 2.3l2.1 2.1l2.1 1.9l2.1 1.7l2.1 1.6l2.1 1.4l2.1 1.3l2.2 1.1l2.1 1.1l2.1 0.9l2.1 0.8l2.1 0.7l4.2 1.3l2.1 0.5l4.2 0.8l2.1 0.4l4.2 0.5l6.3 0.6l8.4 0.4l8.5 0.3l10.5 0.1l12.6 0l72.4 0"/>
<path d="M123 520.4l32.7 0.4l29.5 0.6l27.3 0.8l25.3 1l23.2 1.2l21 1.3l10.5 0.9l10.6 0.9l10.5 1l8.4 0.9l10.5 1.2l8.4 1.1l8.5 1.2l8.4 1.3l8.4 1.4l8.4 1.5l8.4 1.7l6.3 1.3l8.5 1.9l6.3 1.5l8.4 2.1l6.3 1.7l8.4 2.5l6.3 1.9l8.5 2.8l6.3 2.2l8.4 3.1l6.3 2.5l6.3 2.6l6.3 2.7l6.4 2.9l6.3 3l6.3 3.2l6.3 3.2l6.3 3.5l6.3 3.6l6.3 3.7l6.4 3.9l6.3 4.1l6.3 4.2l6.3 4.4l6.3 4.5l4.2 3.1l6.3 4.8l10.6 8.3l10.5 8.7l6.3 5.4l6.3 5.6l10.5 9.4l10.6 9.8l29.4 27.9l10.6 9.9l8.4 7.7l8.4 7.4l4.2 3.5l4.2 3.5l6.3 4.9l6.3 4.5l4.2 2.8l2.2 1.3l4.2 2.4l4.2 2.2l4.2 2l2.1 0.8l4.2 1.5l2.1 0.6l2.1 0.6l2.1 0.4l2.1 0.4l2.1 0.2l2.1 0.2l2.1 0l2.1 0l2.1-0.2l2.1-0.3l2.1-0.4l2.2-0.5l2.1-0.7l2.1-0.8l2.1-0.9l2.1-1.1l2.1-1.2l2.1-1.3l2.1-1.6l2.1-1.6l2.1-1.9l2.1-1.9l2.1-2.2l2.1-2.3l2.1-2.6l2.1-2.7l2.1-2.8l2.1-3.1l2.1-3.3l2.1-3.4l2.1-3.7l2.1-3.9l2.2-4l2.1-4.3l2.1-4.5l2.1-4.7l2.1-5l2.1-5.1l2.1-5.4l4.2-11.4l4.2-12.4l4.2-13.3l2.1-7l2.1-7.3l4.2-15.1l4.2-16.1l4.2-17.1l2.2-8.8l4.2-18.4l4.2-19.1l4.2-20l6.3-31.4l4.2-21.7l4.2-22.3l8.4-45.8l19-105l4.2-22.7l4.2-22.1l4.2-21.4l4.2-20.4l4.2-19.4l4.2-18.1l2.1-8.5l2.1-8.1l2.1-7.7l2.2-7.3l2.1-6.8l2.1-6.4l2.1-6l2.1-5.4l2.1-4.9l2.1-4.4l2.1-3.8l2.1-3.3l2.1-2.7l2.1-2.2l2.1-1.6l2.1-1l2.1-0.5l2.1 0.2l2.1 0.7l2.1 1.3l2.1 1.9l2.1 2.5l2.1 3l2.2 3.6l2.1 4.2l2.1 4.6l2.1 5.2l2.1 5.7l2.1 6.1l2.1 6.7l2.1 7l2.1 7.5l2.1 7.9l2.1 8.2l2.1 8.6l4.2 18l4.2 19.1l4.2 19.8l16.9 82.2l4.2 20l4.2 19.5l4.2 18.8l4.2 17.8l4.2 16.7l2.1 8l2.1 7.7l2.1 7.4l2.1 7l2.1 6.8l2.1 6.5l2.2 6.1l2.1 5.8l2.1 5.6l2.1 5.2l2.1 4.9l2.1 4.6l2.1 4.3l2.1 4.1l2.1 3.8l2.1 3.5l2.1 3.3l2.1 3l2.1 2.8l2.1 2.5l2.1 2.4l2.1 2.2l2.1 1.9l2.1 1.8l2.1 1.7l2.1 1.4l2.1 1.4l2.2 1.2l2.1 1l2.1 1l2.1 0.9l2.1 0.7l4.2 1.3l2.1 0.5l4.2 0.9l2.1 0.4l4.2 0.5l6.3 0.7l8.4 0.4l8.5 0.3l10.5 0.1l12.6 0l72.4 0.1"/>
<path d="M123 520l41.1 0.3l35.8 0.5l31.6 0.6l27.3 0.7l25.3 1l12.6 0.7l10.6 0.6l10.5 0.7l10.5 0.8l10.5 0.9l8.5 0.8l10.5 1.1l8.4 1l8.4 1.1l8.4 1.2l8.5 1.3l8.4 1.4l8.4 1.6l8.4 1.8l8.4 1.9l6.3 1.5l8.5 2.2l6.3 1.8l8.4 2.6l6.3 2.1l6.3 2.2l6.3 2.3l6.4 2.5l6.3 2.7l6.3 2.8l6.3 2.9l6.3 3.2l6.3 3.3l6.3 3.5l6.4 3.6l6.3 3.9l6.3 4.1l6.3 4.2l6.3 4.5l6.3 4.7l6.3 4.9l4.2 3.3l6.4 5.3l4.2 3.6l6.3 5.6l4.2 3.8l6.3 5.9l4.2 4.1l6.3 6.2l10.6 10.8l8.4 9l10.5 11.5l10.5 11.8l21.1 23.9l8.4 9.4l8.4 9.1l6.3 6.5l6.3 6.3l6.4 5.9l4.2 3.7l2.1 1.8l4.2 3.3l2.1 1.6l4.2 2.9l2.1 1.4l4.2 2.4l2.1 1.1l2.1 1l2.1 0.9l2.1 0.9l2.1 0.7l2.1 0.5l2.1 0.5l2.1 0.4l2.1 0.2l2.2 0.1l2.1 0l2.1-0.2l2.1-0.3l2.1-0.4l2.1-0.6l2.1-0.8l2.1-0.9l2.1-1.1l2.1-1.2l2.1-1.5l2.1-1.6l2.1-1.8l2.1-2l2.1-2.1l2.1-2.4l2.1-2.6l2.1-2.8l2.1-3l2.1-3.3l2.1-3.4l2.2-3.7l2.1-3.9l2.1-4.2l2.1-4.4l2.1-4.6l2.1-4.9l2.1-5.1l2.1-5.4l2.1-5.6l2.1-5.9l2.1-6.2l2.1-6.4l4.2-13.6l2.1-7.2l4.2-15.3l2.1-8l4.2-16.8l2.1-8.7l4.3-18.4l2.1-9.5l4.2-19.9l4.2-20.7l4.2-21.7l6.3-33.9l4.2-23.6l4.2-24.1l6.3-37l19-113l4.2-24.5l4.2-23.8l4.2-23.1l4.2-22.1l4.2-20.8l4.2-19.5l2.1-9.2l2.1-8.7l2.2-8.3l2.1-7.9l2.1-7.3l2.1-6.9l2.1-6.4l2.1-5.8l2.1-5.2l2.1-4.7l2.1-4.2l2.1-3.5l2.1-2.9l2.1-2.4l2.1-1.7l2.1-1l2.1-0.5l2.1 0.2l2.1 0.7l2.1 1.4l2.1 2.1l2.1 2.6l2.2 3.2l2.1 3.8l2.1 4.4l2.1 5l2.1 5.5l2.1 6l2.1 6.5l2.1 7l2.1 7.5l2.1 7.8l2.1 8.3l2.1 8.7l2.1 9l4.2 18.9l4.2 19.9l4.2 20.7l14.8 74.5l4.2 20.9l4.2 20.4l4.2 19.5l4.2 18.6l4.2 17.6l2.1 8.4l4.2 15.8l2.1 7.4l2.1 7.1l2.1 6.8l2.2 6.4l2.1 6.2l2.1 5.8l2.1 5.5l2.1 5.1l2.1 4.9l2.1 4.6l2.1 4.3l2.1 3.9l2.1 3.8l2.1 3.4l2.1 3.2l2.1 2.9l2.1 2.7l2.1 2.5l2.1 2.3l2.1 2.1l2.1 1.9l2.1 1.7l2.1 1.6l2.1 1.4l2.2 1.3l2.1 1.1l2.1 1l2.1 0.9l2.1 0.8l4.2 1.4l2.1 0.5l4.2 1l2.1 0.3l4.2 0.7l6.3 0.6l8.4 0.5l8.5 0.2l10.5 0.2l12.6 0l72.4 0.1"/>
<path d="M123 519.9l49.6 0.2l42 0.3l35.8 0.5l29.5 0.7l27.4 0.8l12.6 0.6l12.6 0.6l10.5 0.6l10.6 0.6l10.5 0.8l10.5 0.9l10.5 1l8.5 0.9l10.5 1.3l8.4 1.2l8.4 1.3l8.4 1.4l8.5 1.6l8.4 1.7l8.4 1.9l6.3 1.6l8.4 2.3l6.3 1.8l8.5 2.7l6.3 2.2l6.3 2.4l6.3 2.5l6.3 2.7l6.3 2.8l6.3 3.1l6.4 3.3l6.3 3.5l6.3 3.7l6.3 3.9l4.2 2.7l6.3 4.4l6.3 4.6l6.4 4.8l4.2 3.4l6.3 5.3l6.3 5.5l6.3 5.9l4.2 4l4.2 4.2l4.2 4.3l4.2 4.4l4.3 4.6l8.4 9.4l8.4 9.9l4.2 5.1l6.3 7.8l10.5 13.5l10.6 13.9l25.2 33.9l8.4 11l6.4 8l4.2 5.2l4.2 4.9l6.3 7.1l4.2 4.4l2.1 2.1l4.2 3.9l2.1 1.9l4.2 3.4l2.1 1.6l2.1 1.4l2.1 1.3l2.1 1.3l2.2 1.1l2.1 0.9l2.1 0.9l2.1 0.7l2.1 0.5l2.1 0.4l2.1 0.3l2.1 0l2.1-0.1l2.1-0.2l2.1-0.5l2.1-0.6l2.1-0.8l2.1-1.1l2.1-1.2l2.1-1.4l2.1-1.7l2.1-1.9l2.1-2.1l2.1-2.4l2.1-2.6l2.2-2.8l2.1-3.2l2.1-3.3l2.1-3.6l2.1-3.9l2.1-4.2l2.1-4.5l2.1-4.7l2.1-5.1l2.1-5.3l2.1-5.6l2.1-5.9l2.1-6.2l2.1-6.5l2.1-6.9l2.1-7.1l2.1-7.5l2.1-7.7l4.2-16.5l2.1-8.6l4.3-18.3l2.1-9.6l4.2-20.1l2.1-10.5l4.2-21.8l4.2-22.8l4.2-23.9l6.3-37.4l6.3-39.2l6.3-40.4l19-123.4l4.2-26.7l4.2-25.9l4.2-25.1l4.2-23.9l4.2-22.5l2.1-10.6l2.1-10.3l2.2-9.8l2.1-9.3l2.1-8.8l2.1-8.3l2.1-7.8l2.1-7.2l2.1-6.6l2.1-6.1l2.1-5.4l2.1-4.7l2.1-4.2l2.1-3.4l2.1-2.8l2.1-2.2l2.1-1.4l2.1-0.8l2.1-0.1l2.1 0.6l2.1 1.2l2.1 1.9l2.2 2.6l2.1 3.3l2.1 3.8l2.1 4.5l2.1 5.1l2.1 5.7l2.1 6.3l2.1 6.7l2.1 7.3l2.1 7.8l2.1 8.3l2.1 8.7l2.1 9l2.1 9.5l4.2 19.8l4.2 20.9l4.2 21.7l14.8 77.8l6.3 32.4l4.2 20.7l4.2 19.7l4.2 18.7l2.1 8.8l4.2 16.9l2.1 7.9l2.1 7.6l2.1 7.2l2.2 6.9l2.1 6.6l2.1 6.2l2.1 5.9l2.1 5.5l2.1 5.2l2.1 4.9l2.1 4.6l2.1 4.3l2.1 4l2.1 3.7l2.1 3.4l2.1 3.2l2.1 2.9l2.1 2.7l2.1 2.4l2.1 2.3l2.1 2l2.1 1.9l2.1 1.6l2.1 1.6l2.2 1.3l2.1 1.3l2.1 1.1l2.1 0.9l2.1 0.9l2.1 0.8l2.1 0.7l2.1 0.6l4.2 1l2.1 0.4l4.2 0.6l6.3 0.7l4.2 0.3l4.2 0.3l8.5 0.2l10.5 0.2l12.6 0l72.4 0.1"/>
<path d="M123 519.8l60.1 0.2l46.3 0.3l37.9 0.4l33.6 0.6l14.8 0.4l14.7 0.4l12.6 0.5l12.7 0.5l12.6 0.7l10.5 0.6l10.5 0.7l10.6 0.9l10.5 0.9l10.5 1.1l10.5 1.3l8.5 1.1l8.4 1.3l8.4 1.4l8.4 1.5l8.4 1.8l8.5 1.9l6.3 1.6l8.4 2.3l6.3 1.9l8.4 2.8l6.3 2.3l6.4 2.4l6.3 2.6l6.3 2.9l6.3 3l6.3 3.3l6.3 3.5l6.3 3.7l6.4 4l6.3 4.3l4.2 3l6.3 4.8l6.3 5.1l6.3 5.4l4.2 3.7l6.3 6l4.3 4.1l6.3 6.5l4.2 4.6l4.2 4.7l4.2 4.8l4.2 5l4.2 5.1l4.2 5.3l4.2 5.5l4.2 5.6l4.3 5.7l8.4 11.8l4.2 6.1l6.3 9.4l10.5 16l23.2 35.8l6.3 9.6l6.3 9.2l6.3 8.9l4.2 5.6l2.1 2.7l4.2 5.2l2.1 2.5l4.3 4.6l2.1 2.2l2.1 2l2.1 2l2.1 1.8l2.1 1.6l2.1 1.6l2.1 1.4l2.1 1.2l2.1 1.1l2.1 0.9l2.1 0.7l2.1 0.6l2.1 0.3l2.1 0.2l2.1-0.1l2.1-0.3l2.1-0.5l2.1-0.7l2.1-1l2.1-1.2l2.2-1.5l2.1-1.7l2.1-2l2.1-2.3l2.1-2.6l2.1-2.8l2.1-3.2l2.1-3.5l2.1-3.8l2.1-4.1l2.1-4.4l2.1-4.8l2.1-5.1l2.1-5.5l2.1-5.8l2.1-6.2l2.1-6.5l2.1-6.9l2.1-7.2l2.1-7.6l2.1-8l2.2-8.3l2.1-8.7l2.1-9.1l2.1-9.4l4.2-20l2.1-10.5l4.2-22.1l2.1-11.5l4.2-24l2.1-12.5l4.2-25.9l6.3-40.8l6.3-42.8l6.4-44.3l16.8-120.4l4.2-29.5l4.2-28.7l4.2-27.7l4.2-26.4l4.2-24.9l2.2-11.8l2.1-11.4l2.1-10.8l2.1-10.3l2.1-9.8l2.1-9.2l2.1-8.6l2.1-7.9l2.1-7.3l2.1-6.6l2.1-5.9l2.1-5.2l2.1-4.6l2.1-3.7l2.1-3.1l2.1-2.2l2.1-1.6l2.1-0.8l2.1 0l2.1 0.7l2.2 1.5l2.1 2.2l2.1 2.9l2.1 3.6l2.1 4.3l2.1 5l2.1 5.6l2.1 6.3l2.1 6.8l2.1 7.4l2.1 8l2.1 8.5l2.1 9l2.1 9.4l2.1 9.8l4.2 20.7l4.2 21.8l4.2 22.7l14.8 81.8l6.3 33.9l4.2 21.7l4.2 20.6l4.2 19.5l2.1 9.3l2.1 8.9l2.1 8.6l2.1 8.2l2.1 7.9l2.2 7.5l2.1 7.1l2.1 6.8l2.1 6.4l2.1 6.1l2.1 5.7l2.1 5.3l2.1 5l2.1 4.7l2.1 4.4l2.1 4l2.1 3.8l2.1 3.5l2.1 3.2l2.1 2.9l2.1 2.7l2.1 2.5l2.1 2.2l2.1 2.1l2.1 1.8l2.1 1.7l2.2 1.5l2.1 1.3l2.1 1.2l2.1 1.1l2.1 1l2.1 0.8l2.1 0.8l2.1 0.7l4.2 1.1l2.1 0.4l4.2 0.7l6.3 0.8l4.2 0.4l4.2 0.2l8.5 0.3l10.5 0.2l12.6 0l72.4 0.1"/>
<path d="M123 519.8l66.4 0.2l50.5 0.2l42.1 0.4l33.7 0.5l16.8 0.4l14.8 0.4l14.7 0.5l12.6 0.5l12.6 0.6l12.7 0.7l10.5 0.7l10.5 0.8l10.5 0.9l10.6 1.1l10.5 1.2l8.4 1.1l10.5 1.5l8.5 1.4l8.4 1.6l8.4 1.7l8.4 2l6.3 1.6l8.4 2.3l6.4 1.9l8.4 2.9l6.3 2.3l6.3 2.5l6.3 2.7l6.3 2.9l4.2 2.1l6.4 3.3l4.2 2.3l6.3 3.8l4.2 2.6l6.3 4.2l4.2 3l6.3 4.7l4.2 3.3l4.2 3.5l4.3 3.6l6.3 5.8l4.2 4l4.2 4.2l4.2 4.4l6.3 6.9l4.2 4.8l6.3 7.6l4.2 5.3l4.3 5.4l6.3 8.6l4.2 5.8l6.3 9.2l4.2 6.3l6.3 9.8l4.2 6.6l6.3 10.3l10.6 17.6l21 35.8l6.3 10.5l4.2 6.8l6.4 9.9l4.2 6.2l4.2 6l2.1 2.8l4.2 5.4l2.1 2.5l2.1 2.3l2.1 2.3l2.1 2.1l2.1 1.9l2.1 1.8l2.1 1.6l2.1 1.5l2.1 1.3l2.1 1l2.1 0.9l2.1 0.6l2.1 0.4l2.2 0.2l2.1 0l2.1-0.3l2.1-0.6l2.1-0.9l2.1-1.1l2.1-1.5l2.1-1.7l2.1-2.1l2.1-2.3l2.1-2.8l2.1-3l2.1-3.4l2.1-3.8l2.1-4.1l2.1-4.5l2.1-4.9l2.1-5.3l2.1-5.7l2.1-6.1l2.1-6.5l2.2-6.9l2.1-7.3l2.1-7.7l2.1-8.2l2.1-8.6l2.1-9l2.1-9.4l2.1-9.9l2.1-10.3l2.1-10.7l2.1-11.1l4.2-23.4l2.1-12.3l4.2-25.8l2.1-13.4l4.2-27.9l2.1-14.4l4.3-29.7l6.3-46.4l6.3-48l14.7-114.2l4.2-32l4.2-31.2l4.2-30.1l4.3-28.6l4.2-26.9l2.1-12.8l2.1-12.2l2.1-11.6l2.1-11l2.1-10.4l2.1-9.8l2.1-9l2.1-8.4l2.1-7.6l2.1-6.8l2.1-6.1l2.1-5.3l2.1-4.5l2.1-3.7l2.1-2.8l2.1-2l2.1-1.2l2.2-0.3l2.1 0.4l2.1 1.3l2.1 2.1l2.1 2.9l2.1 3.7l2.1 4.4l2.1 5.2l2.1 5.9l2.1 6.6l2.1 7.2l2.1 7.8l2.1 8.4l2.1 9l2.1 9.5l2.1 10l2.1 10.4l4.2 21.9l2.1 11.4l4.3 23.6l14.7 85.7l6.3 35.8l4.2 22.8l4.2 21.8l4.2 20.6l2.1 9.7l2.1 9.4l2.1 9.1l2.1 8.6l2.2 8.3l2.1 7.9l2.1 7.5l2.1 7.1l2.1 6.7l2.1 6.4l2.1 5.9l2.1 5.6l2.1 5.2l2.1 4.9l2.1 4.6l2.1 4.2l2.1 3.9l2.1 3.6l2.1 3.3l2.1 3l2.1 2.8l2.1 2.5l2.1 2.3l2.1 2.1l2.1 1.9l2.2 1.7l2.1 1.5l2.1 1.4l2.1 1.2l2.1 1.1l2.1 1l2.1 0.8l2.1 0.8l2.1 0.7l4.2 1.1l2.1 0.4l4.2 0.7l6.3 0.8l4.2 0.3l4.2 0.2l8.5 0.3l10.5 0.2l12.6 0l70.3 0.1"/>
<path d="M123 519.8l70.6 0.1l54.7 0.3l44.2 0.3l35.8 0.5l31.6 0.7l14.7 0.5l12.6 0.4l12.7 0.6l12.6 0.7l12.6 0.7l10.6 0.8l10.5 0.8l10.5 1l10.5 1.2l8.4 1l10.6 1.5l8.4 1.3l8.4 1.5l8.4 1.7l8.4 1.9l8.5 2l8.4 2.4l6.3 1.9l8.4 2.8l6.3 2.3l6.3 2.4l6.4 2.7l6.3 2.9l6.3 3.2l6.3 3.4l4.2 2.4l6.3 3.8l4.2 2.7l6.3 4.3l4.3 3.1l6.3 4.9l4.2 3.4l4.2 3.6l4.2 3.8l6.3 6l4.2 4.2l4.2 4.4l4.2 4.6l6.4 7.2l4.2 5l6.3 8l4.2 5.5l4.2 5.7l6.3 9l4.2 6.2l6.3 9.7l4.2 6.6l4.3 6.9l4.2 7l6.3 10.7l10.5 18.5l21.1 37.6l8.4 14.6l6.3 10.4l4.2 6.5l4.2 6.3l4.2 5.8l2.1 2.7l2.1 2.6l2.1 2.5l2.1 2.3l2.1 2.2l2.1 1.9l2.1 1.8l2.2 1.7l2.1 1.4l2.1 1.2l2.1 0.9l2.1 0.8l2.1 0.5l2.1 0.2l2.1-0.1l2.1-0.3l2.1-0.6l2.1-0.9l2.1-1.3l2.1-1.5l2.1-1.9l2.1-2.3l2.1-2.6l2.1-3l2.1-3.4l2.1-3.8l2.1-4.1l2.1-4.6l2.2-5l2.1-5.5l2.1-5.9l2.1-6.3l2.1-6.8l2.1-7.2l2.1-7.7l2.1-8.2l2.1-8.6l2.1-9.1l2.1-9.6l2.1-10l2.1-10.6l2.1-10.9l2.1-11.5l4.2-24.2l2.1-12.8l4.2-26.8l2.1-14.1l4.3-29.2l2.1-15.1l4.2-31.2l6.3-49l6.3-50.8l14.7-120.5l4.2-33.6l4.3-32.6l4.2-31.3l4.2-29.6l2.1-14.1l2.1-13.5l2.1-13l2.1-12.4l2.1-11.7l2.1-11l2.1-10.3l2.1-9.5l2.1-8.8l2.1-8l2.1-7.1l2.1-6.3l2.1-5.4l2.1-4.6l2.1-3.7l2.2-2.7l2.1-1.9l2.1-1l2.1 0l2.1 0.8l2.1 1.7l2.1 2.5l2.1 3.4l2.1 4.3l2.1 5l2.1 5.8l2.1 6.6l2.1 7.3l2.1 8l2.1 8.6l2.1 9.1l2.1 9.8l2.1 10.3l2.1 10.7l4.2 22.7l2.2 11.9l4.2 24.4l14.7 89l6.3 37l4.2 23.5l4.2 22.4l4.2 21l2.1 10l2.1 9.5l2.2 9.2l2.1 8.8l2.1 8.3l2.1 8l2.1 7.5l2.1 7.1l2.1 6.7l2.1 6.4l2.1 5.9l2.1 5.5l2.1 5.2l2.1 4.8l2.1 4.4l2.1 4.1l2.1 3.8l2.1 3.5l2.1 3.2l2.1 2.9l2.1 2.6l2.1 2.4l2.1 2.2l2.2 2l2.1 1.8l2.1 1.6l2.1 1.4l2.1 1.3l2.1 1.1l2.1 1l2.1 0.9l2.1 0.8l2.1 0.6l4.2 1.2l2.1 0.4l4.2 0.7l6.3 0.8l6.3 0.4l8.5 0.4l10.5 0.2l12.6 0l70.3 0.1"/>
<path d="M123 519.8l74.8 0.1l56.8 0.2l44.2 0.3l37.9 0.5l31.6 0.7l14.7 0.4l14.8 0.5l12.6 0.5l12.6 0.7l12.7 0.7l10.5 0.7l10.5 0.8l10.5 1l10.5 1.1l10.6 1.2l10.5 1.5l8.4 1.3l8.4 1.5l8.5 1.6l8.4 1.8l8.4 2.1l8.4 2.3l6.3 1.8l8.4 2.8l6.4 2.3l6.3 2.4l6.3 2.7l6.3 2.8l6.3 3.1l6.3 3.4l4.2 2.4l6.4 3.8l4.2 2.7l6.3 4.3l4.2 3l6.3 4.9l4.2 3.4l6.3 5.5l4.2 3.8l6.3 6.1l4.3 4.3l4.2 4.5l4.2 4.7l6.3 7.4l4.2 5.2l4.2 5.3l4.2 5.6l4.2 5.8l6.3 9l4.3 6.3l6.3 9.8l4.2 6.7l4.2 7l4.2 7l6.3 11l10.5 18.7l21.1 38.2l4.2 7.5l4.2 7.3l6.3 10.5l4.2 6.6l4.2 6.2l4.2 5.7l2.1 2.7l2.2 2.6l2.1 2.4l2.1 2.2l2.1 2l2.1 1.9l2.1 1.6l2.1 1.5l2.1 1.2l2.1 1l2.1 0.7l2.1 0.5l2.1 0.2l2.1-0.1l2.1-0.4l2.1-0.7l2.1-1l2.1-1.4l2.1-1.7l2.1-2.1l2.1-2.4l2.1-2.8l2.2-3.3l2.1-3.6l2.1-4.1l2.1-4.5l2.1-4.9l2.1-5.4l2.1-5.9l2.1-6.3l2.1-6.8l2.1-7.3l2.1-7.8l2.1-8.2l2.1-8.8l2.1-9.3l2.1-9.7l2.1-10.3l2.1-10.7l2.1-11.3l2.1-11.7l2.1-12.3l4.3-25.8l2.1-13.6l4.2-28.6l2.1-14.9l4.2-30.9l4.2-32.3l6.3-50.6l6.3-52.4l12.6-106.3l4.3-34.6l4.2-33.7l4.2-32.3l4.2-30.5l2.1-14.6l2.1-13.9l2.1-13.3l2.1-12.7l2.1-12l2.1-11.3l2.1-10.5l2.1-9.7l2.1-8.9l2.1-8.1l2.1-7.1l2.1-6.3l2.2-5.4l2.1-4.4l2.1-3.5l2.1-2.5l2.1-1.6l2.1-0.7l2.1 0.3l2.1 1.2l2.1 2.2l2.1 3l2.1 3.9l2.1 4.8l2.1 5.6l2.1 6.4l2.1 7.1l2.1 7.9l2.1 8.6l2.1 9.2l2.1 9.8l2.1 10.4l2.1 10.8l4.3 23l2.1 12.1l4.2 25l14.7 90.8l6.3 37.7l4.2 24l4.2 22.7l4.2 21.3l2.2 10.1l2.1 9.6l2.1 9.3l2.1 8.8l2.1 8.4l2.1 8l2.1 7.5l2.1 7.1l2.1 6.7l2.1 6.3l2.1 5.8l2.1 5.5l2.1 5.1l2.1 4.7l2.1 4.3l2.1 4l2.1 3.7l2.1 3.4l2.1 3.1l2.1 2.8l2.1 2.5l2.2 2.4l2.1 2l2.1 1.9l2.1 1.7l2.1 1.5l2.1 1.3l2.1 1.2l2.1 1.1l2.1 0.9l2.1 0.8l2.1 0.7l4.2 1.2l2.1 0.4l4.2 0.8l2.1 0.3l4.2 0.5l6.4 0.4l8.4 0.4l8.4 0.1l12.6 0.1l70.3 0.1"/>
<path d="M123 519.8l74.8 0.1l56.8 0.2l46.3 0.3l37.9 0.4l33.7 0.6l14.7 0.4l14.8 0.5l12.6 0.5l12.6 0.5l12.7 0.7l10.5 0.7l12.6 0.9l10.5 0.9l10.6 1l10.5 1.2l10.5 1.4l8.4 1.3l8.4 1.3l8.5 1.6l8.4 1.7l8.4 2l8.4 2.1l6.3 1.8l8.5 2.6l6.3 2.2l6.3 2.3l6.3 2.6l6.3 2.7l6.3 2.9l6.3 3.2l4.3 2.3l6.3 3.6l4.2 2.6l6.3 4.1l4.2 3l6.3 4.6l4.2 3.3l6.3 5.2l4.2 3.7l6.4 5.9l4.2 4.1l4.2 4.4l4.2 4.5l6.3 7.1l4.2 5l6.3 7.9l4.2 5.5l4.2 5.7l6.4 9l4.2 6.2l6.3 9.7l4.2 6.7l4.2 6.9l4.2 7l6.3 10.9l10.6 18.7l21 38.1l4.2 7.5l4.2 7.2l6.3 10.5l4.2 6.6l4.3 6.2l4.2 5.7l2.1 2.7l2.1 2.5l2.1 2.4l2.1 2.1l2.1 2l2.1 1.8l2.1 1.6l2.1 1.4l2.1 1.2l2.1 0.9l2.1 0.6l2.1 0.4l2.1 0.1l2.1-0.2l2.1-0.5l2.1-0.8l2.1-1.2l2.1-1.5l2.2-1.9l2.1-2.3l2.1-2.6l2.1-3.1l2.1-3.5l2.1-3.9l2.1-4.3l2.1-4.8l2.1-5.3l2.1-5.7l2.1-6.2l2.1-6.6l2.1-7.2l2.1-7.7l2.1-8.2l2.1-8.7l2.1-9.2l2.1-9.7l2.1-10.2l2.1-10.7l2.1-11.3l2.2-11.7l2.1-12.3l4.2-25.9l2.1-13.7l4.2-28.7l2.1-15l4.2-31.2l4.2-32.6l6.3-51l6.3-52.9l12.7-107.2l6.3-51.8l4.2-33.1l4.2-31.4l4.2-29.3l2.1-13.8l2.1-13.2l2.1-12.4l2.1-11.8l2.1-10.9l2.1-10.2l2.1-9.4l2.1-8.5l2.2-7.5l2.1-6.7l2.1-5.8l2.1-4.8l2.1-3.9l2.1-2.8l2.1-2l2.1-0.9l2.1 0l2.1 1l2.1 1.9l2.1 2.9l2.1 3.7l2.1 4.7l2.1 5.4l2.1 6.4l2.1 7.1l2.1 7.8l2.1 8.6l2.1 9.2l2.1 9.8l2.2 10.4l2.1 10.9l4.2 23.2l2.1 12.1l4.2 25.1l14.7 91.4l6.3 37.9l4.2 24l2.1 11.6l4.3 22l2.1 10.4l2.1 10l2.1 9.6l2.1 9.2l2.1 8.7l2.1 8.3l2.1 7.9l2.1 7.4l2.1 7l2.1 6.6l2.1 6.1l2.1 5.7l2.1 5.3l2.1 5l2.1 4.5l2.1 4.3l2.1 3.8l2.1 3.6l2.1 3.2l2.1 3l2.2 2.6l2.1 2.5l2.1 2.1l2.1 2l2.1 1.8l2.1 1.5l2.1 1.4l2.1 1.3l2.1 1.1l2.1 1l2.1 0.8l2.1 0.8l2.1 0.6l2.1 0.6l2.1 0.5l4.2 0.7l2.1 0.4l4.2 0.4l6.4 0.5l8.4 0.4l8.4 0.1l12.6 0.1l68.2 0.1"/>
<path d="M123 519.8l79 0.1l59 0.2l46.3 0.3l37.8 0.4l33.7 0.6l14.8 0.4l14.7 0.5l12.6 0.4l12.6 0.6l12.7 0.7l10.5 0.6l12.6 0.9l10.6 0.9l10.5 1l10.5 1.2l10.5 1.4l8.4 1.2l8.5 1.4l8.4 1.5l8.4 1.7l8.4 1.9l8.4 2.1l6.4 1.8l8.4 2.6l6.3 2.1l6.3 2.3l6.3 2.5l6.3 2.7l6.3 2.9l6.4 3.1l4.2 2.3l6.3 3.6l6.3 3.8l6.3 4.2l4.2 2.9l6.3 4.8l4.2 3.3l6.4 5.3l4.2 3.7l6.3 5.9l4.2 4.2l4.2 4.4l4.2 4.6l6.3 7.2l4.2 5l4.2 5.3l4.3 5.4l4.2 5.7l6.3 8.9l4.2 6.1l6.3 9.6l4.2 6.7l4.2 6.8l4.2 7l6.3 10.7l10.6 18.5l21 37.8l4.2 7.4l4.2 7.2l4.2 7l4.3 6.6l4.2 6.3l4.2 5.9l2.1 2.7l2.1 2.6l2.1 2.5l2.1 2.3l2.1 2.1l2.1 1.9l2.1 1.7l2.1 1.5l2.1 1.3l2.1 1.1l2.1 0.8l2.1 0.5l2.1 0.3l2.1 0l2.1-0.4l2.1-0.6l2.2-1l2.1-1.3l2.1-1.7l2.1-2.1l2.1-2.4l2.1-2.8l2.1-3.3l2.1-3.7l2.1-4.1l2.1-4.5l2.1-5l2.1-5.5l2.1-6l2.1-6.4l2.1-7l2.1-7.4l2.1-8l2.1-8.4l2.1-9l2.1-9.5l2.1-10l2.2-10.5l2.1-11.1l2.1-11.5l2.1-12.1l4.2-25.6l2.1-13.5l4.2-28.4l2.1-14.8l4.2-31l4.2-32.4l6.3-50.8l6.3-52.7l12.7-107l6.3-51.8l4.2-33l4.2-31.4l4.2-29.3l2.1-13.7l2.1-13.1l2.1-12.5l2.1-11.6l2.1-11l2.1-10.1l2.2-9.2l2.1-8.4l2.1-7.5l2.1-6.5l2.1-5.7l2.1-4.6l2.1-3.7l2.1-2.8l2.1-1.7l2.1-0.8l2.1 0.2l2.1 1.2l2.1 2.1l2.1 3l2.1 4l2.1 4.8l2.1 5.7l2.1 6.5l2.1 7.3l2.1 8l2.1 8.8l2.2 9.3l2.1 10l2.1 10.6l2.1 11l4.2 23.4l2.1 12.2l4.2 25.3l14.7 91.2l6.3 37.5l4.2 23.7l2.2 11.3l4.2 21.6l2.1 10.2l2.1 9.8l2.1 9.3l2.1 8.9l2.1 8.5l2.1 8l2.1 7.6l2.1 7.2l2.1 6.7l2.1 6.3l2.1 5.8l2.1 5.5l2.1 5.1l2.1 4.6l2.1 4.4l2.1 3.9l2.1 3.7l2.1 3.3l2.2 3.1l2.1 2.7l2.1 2.5l2.1 2.2l2.1 2.1l2.1 1.8l2.1 1.6l2.1 1.4l2.1 1.3l2.1 1.1l2.1 1l2.1 0.9l2.1 0.8l2.1 0.6l4.2 1.1l2.1 0.4l4.2 0.7l6.4 0.7l6.3 0.4l8.4 0.3l8.4 0.2l12.6 0l64 0.1"/>
<path d="M123 519.8l79 0.1l59 0.1l46.3 0.3l40 0.5l33.6 0.5l29.5 0.9l14.7 0.5l12.7 0.5l12.6 0.7l10.5 0.6l12.6 0.9l10.6 0.9l10.5 1l10.5 1.2l10.5 1.3l8.5 1.2l8.4 1.4l8.4 1.5l8.4 1.7l8.4 1.9l8.4 2.1l6.4 1.7l8.4 2.5l6.3 2.1l6.3 2.3l6.3 2.5l6.3 2.6l6.4 2.9l6.3 3.1l4.2 2.2l6.3 3.6l6.3 3.8l6.3 4.1l4.2 2.9l6.3 4.7l4.3 3.3l6.3 5.2l4.2 3.7l6.3 5.8l4.2 4.2l4.2 4.3l4.2 4.5l6.3 7.1l4.2 5l4.3 5.2l4.2 5.4l4.2 5.6l6.3 8.8l4.2 6.1l6.3 9.5l4.2 6.6l4.2 6.7l4.2 6.9l6.4 10.7l10.5 18.3l21 37.5l4.2 7.2l4.2 7.2l4.3 6.8l4.2 6.6l4.2 6.2l4.2 5.8l2.1 2.7l2.1 2.6l2.1 2.4l2.1 2.2l2.1 2.1l2.1 1.8l2.1 1.7l2.1 1.5l2.1 1.2l2.1 1l2.1 0.8l2.1 0.4l2.1 0.2l2.1 0l2.2-0.4l2.1-0.7l2.1-1.1l2.1-1.4l2.1-1.7l2.1-2.2l2.1-2.5l2.1-2.9l2.1-3.3l2.1-3.8l2.1-4.2l2.1-4.7l2.1-5.1l2.1-5.5l2.1-6.1l2.1-6.6l2.1-7l2.1-7.6l2.1-8l2.1-8.6l2.1-9.1l2.2-9.6l2.1-10.1l2.1-10.7l2.1-11.1l2.1-11.7l2.1-12.1l4.2-25.9l4.2-27.7l2.1-14.5l4.2-30.3l4.2-31.8l6.3-50.1l6.3-52.2l14.8-123.9l6.3-51.2l4.2-32.4l4.2-30.7l2.1-14.6l2.1-13.9l2.1-13.4l2.1-12.6l2.1-11.9l2.1-11.2l2.2-10.4l2.1-9.5l2.1-8.7l2.1-7.8l2.1-6.9l2.1-6l2.1-5l2.1-4l2.1-3.1l2.1-2.1l2.1-1.1l2.1-0.1l2.1 0.8l2.1 1.8l2.1 2.7l2.1 3.7l2.1 4.5l2.1 5.4l2.1 6.3l2.1 7l2.1 7.7l2.2 8.5l2.1 9.2l2.1 9.8l2.1 10.3l2.1 10.9l4.2 23l2.1 12.1l4.2 25l14.7 90.7l6.3 37.4l4.3 23.6l2.1 11.4l4.2 21.5l2.1 10.2l2.1 9.8l2.1 9.4l2.1 8.9l2.1 8.5l2.1 8l2.1 7.6l2.1 7.2l2.1 6.7l2.1 6.3l2.1 5.9l2.1 5.4l2.1 5.1l2.1 4.7l2.1 4.3l2.1 4l2.1 3.7l2.2 3.3l2.1 3l2.1 2.8l2.1 2.5l2.1 2.2l2.1 2l2.1 1.8l2.1 1.7l2.1 1.4l2.1 1.3l2.1 1.1l2.1 1l2.1 0.9l2.1 0.7l2.1 0.7l2.1 0.6l2.1 0.5l4.2 0.7l2.1 0.4l4.3 0.5l6.3 0.4l8.4 0.4l8.4 0.2l12.6 0l64 0.1"/>
<path d="M123 519.8l81.1 0.1l59 0.1l46.3 0.3l40 0.4l33.6 0.6l29.5 0.8l14.7 0.5l12.7 0.6l12.6 0.6l10.5 0.7l12.6 0.8l10.6 0.9l10.5 1l10.5 1.1l10.5 1.3l8.5 1.2l8.4 1.3l8.4 1.5l8.4 1.7l8.4 1.8l8.5 2.1l6.3 1.7l8.4 2.5l6.3 2l6.3 2.3l6.3 2.4l6.3 2.6l6.4 2.8l6.3 3.1l4.2 2.2l6.3 3.4l6.3 3.8l6.3 4l4.2 2.9l6.3 4.5l4.3 3.3l6.3 5.1l4.2 3.6l6.3 5.8l4.2 4.1l4.2 4.2l4.2 4.5l6.3 7l4.2 4.9l6.4 7.8l4.2 5.4l4.2 5.6l6.3 8.8l4.2 6.1l6.3 9.5l4.2 6.6l4.2 6.7l4.2 6.9l6.4 10.7l8.4 14.5l21 37.2l4.2 7.2l4.2 7.1l4.3 6.9l4.2 6.6l4.2 6.2l4.2 5.8l2.1 2.7l2.1 2.5l2.1 2.5l2.1 2.2l2.1 2.1l2.1 1.9l2.1 1.7l2.1 1.5l2.1 1.3l2.1 1l2.1 0.8l2.1 0.6l2.1 0.2l2.2 0l2.1-0.3l2.1-0.7l2.1-0.9l2.1-1.3l2.1-1.7l2.1-2.1l2.1-2.4l2.1-2.8l2.1-3.2l2.1-3.7l2.1-4.1l2.1-4.5l2.1-5l2.1-5.5l2.1-6l2.1-6.4l2.1-6.9l2.1-7.4l2.1-8l2.1-8.4l2.2-9l2.1-9.5l2.1-9.9l2.1-10.6l2.1-11l2.1-11.5l2.1-12.1l4.2-25.5l4.2-27.4l2.1-14.4l4.2-30.1l4.2-31.5l6.3-49.8l6.4-51.9l14.7-123.3l6.3-50.9l4.2-32.3l4.2-30.5l2.1-14.5l2.1-13.9l2.1-13.2l2.1-12.6l2.1-11.9l2.2-11.1l2.1-10.3l2.1-9.5l2.1-8.6l2.1-7.8l2.1-6.8l2.1-5.9l2.1-4.9l2.1-4l2.1-3l2.1-2l2.1-1.1l2.1-0.1l2.1 0.9l2.1 1.9l2.1 2.7l2.1 3.7l2.1 4.6l2.1 5.4l2.1 6.3l2.1 7l2.2 7.8l2.1 8.5l2.1 9.1l2.1 9.8l2.1 10.3l2.1 10.9l4.2 23l2.1 12l4.2 24.9l14.7 90.2l6.3 37.1l4.3 23.4l2.1 11.2l4.2 21.3l2.1 10.1l2.1 9.7l2.1 9.2l2.1 8.8l2.1 8.3l2.1 7.9l2.1 7.5l2.1 7.1l2.1 6.6l2.1 6.1l2.1 5.8l2.1 5.4l2.1 4.9l2.1 4.6l2.1 4.3l2.1 3.9l2.2 3.5l2.1 3.3l2.1 2.9l2.1 2.7l2.1 2.4l2.1 2.2l2.1 2l2.1 1.7l2.1 1.6l2.1 1.4l2.1 1.2l2.1 1.1l2.1 0.9l2.1 0.9l2.1 0.7l2.1 0.6l2.1 0.6l2.1 0.5l4.2 0.7l2.1 0.3l4.3 0.5l6.3 0.5l8.4 0.3l8.4 0.2l12.6 0l61.9 0.1"/>
<path d="M123 519.8l81.1 0.1l59 0.1l46.3 0.3l40 0.4l33.6 0.6l29.5 0.7l14.7 0.5l12.7 0.6l12.6 0.6l10.5 0.6l12.6 0.9l10.6 0.8l10.5 0.9l10.5 1.1l10.5 1.3l8.5 1.2l8.4 1.2l8.4 1.5l8.4 1.6l8.4 1.8l8.5 2l6.3 1.6l8.4 2.5l6.3 1.9l8.4 3l6.3 2.4l6.3 2.6l6.4 2.8l6.3 3l4.2 2.2l6.3 3.5l6.3 3.7l6.3 4l4.2 2.9l6.4 4.5l4.2 3.2l6.3 5.2l4.2 3.6l6.3 5.7l4.2 4.1l4.2 4.2l4.2 4.4l6.3 7l4.3 4.9l6.3 7.7l4.2 5.4l4.2 5.6l6.3 8.8l4.2 6.1l6.3 9.4l4.2 6.6l4.2 6.7l4.3 6.9l6.3 10.5l8.4 14.5l21 36.9l4.2 7.2l4.3 7l4.2 6.8l4.2 6.6l4.2 6.1l4.2 5.7l2.1 2.7l2.1 2.5l2.1 2.4l2.1 2.2l2.1 2.1l2.1 1.8l2.1 1.7l2.1 1.4l2.1 1.3l2.1 0.9l2.1 0.8l2.1 0.5l2.2 0.2l2.1-0.1l2.1-0.4l2.1-0.7l2.1-1l2.1-1.4l2.1-1.7l2.1-2.1l2.1-2.5l2.1-2.9l2.1-3.3l2.1-3.8l2.1-4.1l2.1-4.7l2.1-5l2.1-5.6l2.1-6l2.1-6.5l2.1-7l2.1-7.5l2.1-8l2.2-8.6l2.1-9l2.1-9.5l2.1-10.1l2.1-10.6l2.1-11.1l2.1-11.6l2.1-12.1l4.2-25.7l4.2-27.5l2.1-14.5l4.2-30.1l4.2-31.6l6.3-49.7l6.4-51.8l12.6-105.5l4.2-34.3l4.2-33.4l4.2-31.9l2.1-15.3l4.2-29l2.1-13.6l2.1-13l2.1-12.3l2.2-11.6l2.1-10.8l2.1-10l2.1-9.1l2.1-8.3l2.1-7.4l2.1-6.5l2.1-5.6l2.1-4.5l2.1-3.7l2.1-2.6l2.1-1.7l2.1-0.7l2.1 0.2l2.1 1.3l2.1 2.1l2.1 3.1l2.1 4l2.1 4.9l2.1 5.7l2.1 6.5l2.2 7.3l2.1 8l2.1 8.7l2.1 9.3l2.1 10l2.1 10.5l2.1 10.9l2.1 11.4l2.1 11.8l4.2 24.5l4.2 25.3l10.5 64.3l6.3 37.3l4.3 23.6l2.1 11.4l4.2 21.7l2.1 10.2l2.1 9.9l2.1 9.4l2.1 9l2.1 8.6l2.1 8.1l2.1 7.7l2.1 7.2l2.1 6.9l2.1 6.4l2.1 5.9l2.1 5.6l2.1 5.1l2.1 4.8l2.1 4.4l2.1 4.1l2.2 3.7l2.1 3.4l2.1 3.1l2.1 2.9l2.1 2.5l2.1 2.3l2.1 2.1l2.1 1.8l2.1 1.7l2.1 1.5l2.1 1.3l2.1 1.1l2.1 1.1l2.1 0.9l2.1 0.7l2.1 0.7l4.2 1.1l2.1 0.5l4.2 0.7l6.4 0.7l6.3 0.4l8.4 0.3l8.4 0.2l12.6 0l59.8 0.1"/>
<path d="M123 519.8l81.1 0.1l61.1 0.1l46.3 0.3l40 0.4l33.6 0.6l29.5 0.7l14.7 0.6l12.7 0.5l12.6 0.6l10.5 0.6l12.6 0.9l10.6 0.8l10.5 1l10.5 1.1l10.5 1.3l8.5 1.1l8.4 1.3l8.4 1.5l8.4 1.6l8.4 1.8l8.5 2l6.3 1.7l8.4 2.4l6.3 2l8.4 3l6.3 2.4l6.4 2.6l6.3 2.8l6.3 3.1l4.2 2.2l6.3 3.5l6.3 3.7l6.3 4.1l4.2 2.8l6.4 4.6l4.2 3.2l6.3 5.2l4.2 3.6l6.3 5.8l4.2 4.1l4.2 4.2l4.2 4.5l6.3 7l4.3 4.9l4.2 5.1l4.2 5.3l4.2 5.5l6.3 8.7l4.2 6l6.3 9.3l4.2 6.5l4.2 6.6l4.3 6.8l6.3 10.5l10.5 18l18.9 33.1l6.3 10.8l4.3 6.9l4.2 6.7l4.2 6.4l4.2 6.1l4.2 5.5l2.1 2.6l2.1 2.5l2.1 2.3l2.1 2.1l2.1 2l2.1 1.7l2.1 1.6l2.1 1.3l2.1 1.1l2.1 0.9l2.1 0.6l2.2 0.4l2.1 0.1l2.1-0.3l2.1-0.5l2.1-0.9l2.1-1.1l2.1-1.6l2.1-1.9l2.1-2.3l2.1-2.6l2.1-3.1l2.1-3.5l2.1-4l2.1-4.3l2.1-4.8l2.1-5.3l2.1-5.8l2.1-6.2l2.1-6.7l2.1-7.3l2.1-7.7l2.2-8.2l2.1-8.8l2.1-9.2l2.1-9.8l2.1-10.3l2.1-10.8l2.1-11.3l2.1-11.8l2.1-12.3l2.1-12.8l4.2-27l2.1-14.2l4.2-29.6l2.1-15.4l4.2-31.9l6.3-50l4.3-34.4l14.7-122.4l6.3-50.7l4.2-32.1l4.2-30.5l2.1-14.4l2.1-13.9l2.1-13.2l2.1-12.6l2.2-11.9l2.1-11.1l2.1-10.3l2.1-9.5l2.1-8.7l2.1-7.7l2.1-6.9l2.1-5.9l2.1-5l2.1-4.1l2.1-3l2.1-2.1l2.1-1.2l2.1-0.1l2.1 0.8l2.1 1.7l2.1 2.7l2.1 3.6l2.1 4.5l2.1 5.3l2.1 6.2l2.2 6.9l2.1 7.7l2.1 8.4l2.1 9.1l2.1 9.6l2.1 10.2l2.1 10.8l4.2 22.7l2.1 12l4.2 24.7l14.7 89.3l6.4 36.8l4.2 23.2l2.1 11.1l4.2 21.1l2.1 10l2.1 9.6l2.1 9.1l2.1 8.7l2.1 8.3l2.1 7.8l2.1 7.4l2.1 7l2.1 6.5l2.1 6.1l2.1 5.7l2.1 5.3l2.1 4.9l2.1 4.5l2.1 4.2l2.2 3.9l2.1 3.5l2.1 3.2l2.1 2.9l2.1 2.6l2.1 2.4l2.1 2.2l2.1 1.9l2.1 1.7l2.1 1.6l2.1 1.3l2.1 1.2l2.1 1.1l2.1 1l2.1 0.8l2.1 0.7l2.1 0.6l2.1 0.6l2.1 0.4l4.2 0.8l2.2 0.3l4.2 0.4l6.3 0.5l8.4 0.3l8.4 0.2l14.7 0l57.7 0.1"/>
<path d="M123 519.8l81.1 0.1l61.1 0.1l46.3 0.3l40 0.4l33.6 0.6l29.5 0.7l14.7 0.5l12.7 0.5l12.6 0.7l10.5 0.6l12.6 0.8l10.6 0.8l10.5 1l10.5 1.1l10.5 1.2l8.5 1.2l8.4 1.3l8.4 1.4l8.4 1.6l8.4 1.8l8.5 2l6.3 1.6l8.4 2.4l6.3 2l8.4 2.9l6.3 2.4l6.4 2.6l6.3 2.8l6.3 3l4.2 2.1l6.3 3.5l6.3 3.7l6.3 4l4.2 2.8l6.4 4.5l4.2 3.2l6.3 5.1l4.2 3.6l6.3 5.7l4.2 4l4.2 4.2l4.2 4.4l6.3 7l4.3 4.8l4.2 5.1l4.2 5.3l4.2 5.4l6.3 8.6l4.2 5.9l6.3 9.3l4.2 6.4l4.2 6.6l4.3 6.7l6.3 10.4l10.5 18l21 36.6l4.2 7.1l4.3 7l4.2 6.7l4.2 6.5l4.2 6.1l4.2 5.6l2.1 2.6l2.1 2.5l2.1 2.4l2.1 2.2l2.1 2l2.1 1.8l2.1 1.6l2.1 1.4l2.1 1.2l2.1 1l2.1 0.7l2.2 0.4l2.1 0.2l2.1-0.1l2.1-0.4l2.1-0.8l2.1-1l2.1-1.5l2.1-1.7l2.1-2.2l2.1-2.5l2.1-2.9l2.1-3.4l2.1-3.8l2.1-4.2l2.1-4.6l2.1-5.1l2.1-5.6l2.1-6.1l2.1-6.5l2.1-7.1l2.1-7.5l2.2-8l2.1-8.6l2.1-9.1l2.1-9.5l2.1-10.1l2.1-10.7l2.1-11.1l2.1-11.6l2.1-12.1l4.2-25.7l4.2-27.6l2.1-14.4l4.2-30.1l4.2-31.6l6.3-49.6l6.4-51.6l12.6-104.8l6.3-50.8l4.2-32.3l4.2-30.6l2.1-14.6l2.1-14l2.1-13.4l2.1-12.8l2.2-12l2.1-11.3l2.1-10.6l2.1-9.7l2.1-8.9l2.1-8l2.1-7.1l2.1-6.2l2.1-5.3l2.1-4.3l2.1-3.3l2.1-2.4l2.1-1.4l2.1-0.4l2.1 0.5l2.1 1.5l2.1 2.4l2.1 3.4l2.1 4.2l2.1 5.1l2.1 5.9l2.2 6.7l2.1 7.5l2.1 8.1l2.1 8.9l2.1 9.5l2.1 10l2.1 10.6l4.2 22.5l2.1 11.8l4.2 24.5l14.7 89.1l6.4 36.8l4.2 23.3l2.1 11.2l4.2 21.2l2.1 10.1l2.1 9.6l2.1 9.3l2.1 8.8l2.1 8.3l2.1 8l2.1 7.5l2.1 7l2.1 6.6l2.1 6.2l2.1 5.8l2.1 5.4l2.1 5l2.1 4.6l2.1 4.3l2.2 3.9l2.1 3.6l2.1 3.3l2.1 2.9l2.1 2.7l2.1 2.5l2.1 2.2l2.1 2l2.1 1.7l2.1 1.6l2.1 1.4l2.1 1.3l2.1 1.1l2.1 0.9l2.1 0.9l2.1 0.7l2.1 0.7l2.1 0.5l2.1 0.5l4.2 0.8l2.2 0.3l4.2 0.5l6.3 0.5l8.4 0.3l8.4 0.2l12.6 0l59.8 0.1"/>
<path d="M123 519.8l81.1 0.1l61.1 0.1l46.3 0.3l40 0.4l33.6 0.5l29.5 0.8l14.7 0.5l12.7 0.5l12.6 0.6l10.5 0.6l12.6 0.9l10.6 0.8l10.5 0.9l10.5 1.1l10.5 1.3l8.5 1.1l8.4 1.3l8.4 1.4l8.4 1.6l8.4 1.7l8.5 2l6.3 1.6l8.4 2.4l6.3 2l8.4 2.8l6.3 2.4l6.4 2.6l6.3 2.7l6.3 3l4.2 2.2l6.3 3.4l6.3 3.7l6.3 3.9l4.2 2.8l6.4 4.5l4.2 3.2l6.3 5l4.2 3.6l6.3 5.7l4.2 4l4.2 4.2l4.2 4.3l6.3 6.9l4.3 4.8l6.3 7.6l4.2 5.4l4.2 5.5l6.3 8.6l4.2 6l6.3 9.4l4.2 6.5l4.2 6.6l4.3 6.8l6.3 10.5l8.4 14.3l21 36.5l4.2 7.2l4.3 7l4.2 6.7l4.2 6.5l4.2 6.1l4.2 5.7l2.1 2.7l2.1 2.5l2.1 2.4l2.1 2.2l2.1 2l2.1 1.9l2.1 1.7l2.1 1.4l2.1 1.3l2.1 1l2.1 0.7l2.2 0.5l2.1 0.3l2.1-0.1l2.1-0.3l2.1-0.7l2.1-1l2.1-1.3l2.1-1.7l2.1-2.1l2.1-2.4l2.1-2.9l2.1-3.2l2.1-3.7l2.1-4.1l2.1-4.5l2.1-5l2.1-5.5l2.1-5.9l2.1-6.5l2.1-6.9l2.1-7.4l2.2-7.9l2.1-8.5l2.1-8.9l2.1-9.5l2.1-9.9l2.1-10.5l2.1-11l2.1-11.5l2.1-12l4.2-25.5l4.2-27.3l2.1-14.3l4.2-29.9l4.2-31.4l6.3-49.4l6.4-51.4l12.6-104.7l4.2-34.1l4.2-33.1l4.2-31.6l2.1-15.2l2.1-14.6l2.1-14.1l2.1-13.5l2.1-12.9l2.2-12.2l2.1-11.4l2.1-10.7l2.1-9.9l2.1-9l2.1-8.1l2.1-7.3l2.1-6.4l2.1-5.4l2.1-4.5l2.1-3.5l2.1-2.5l2.1-1.6l2.1-0.6l2.1 0.3l2.1 1.3l2.1 2.3l2.1 3.1l2.1 4.1l2.1 4.9l2.1 5.8l2.2 6.5l2.1 7.3l2.1 8.1l2.1 8.7l2.1 9.3l2.1 10l2.1 10.4l4.2 22.3l2.1 11.8l4.2 24.3l14.7 88.9l6.4 36.9l4.2 23.4l2.1 11.2l4.2 21.4l2.1 10.1l2.1 9.7l2.1 9.2l2.1 8.9l2.1 8.4l2.1 8l2.1 7.6l2.1 7.1l2.1 6.7l2.1 6.2l2.1 5.9l2.1 5.4l2.1 5.1l2.1 4.6l2.1 4.4l2.2 3.9l2.1 3.7l2.1 3.3l2.1 3l2.1 2.7l2.1 2.5l2.1 2.3l2.1 2l2.1 1.8l2.1 1.6l2.1 1.4l2.1 1.3l2.1 1.1l2.1 1l2.1 0.9l2.1 0.7l2.1 0.7l4.2 1l4.2 0.8l2.2 0.4l4.2 0.4l6.3 0.5l8.4 0.4l8.4 0.2l10.5 0l29.5 0.1l32.4 0"/>
<path d="M123 519.8l81.1 0.1l61.1 0.1l46.3 0.3l40 0.4l33.6 0.5l29.5 0.8l14.7 0.5l12.7 0.5l12.6 0.6l10.5 0.6l12.6 0.8l10.6 0.9l10.5 0.9l10.5 1.1l10.5 1.2l8.5 1.1l8.4 1.3l8.4 1.4l8.4 1.6l8.4 1.7l8.5 2l6.3 1.6l8.4 2.4l6.3 1.9l8.4 2.9l6.3 2.3l6.4 2.6l6.3 2.7l6.3 3l4.2 2.2l6.3 3.3l6.3 3.7l6.3 3.9l4.2 2.8l6.4 4.5l4.2 3.2l6.3 5l4.2 3.5l6.3 5.7l4.2 3.9l4.2 4.2l4.2 4.3l6.3 6.9l4.3 4.8l6.3 7.6l4.2 5.3l4.2 5.5l6.3 8.6l4.2 6l6.3 9.3l4.2 6.5l4.2 6.6l4.3 6.7l6.3 10.5l8.4 14.3l21 36.5l4.2 7.1l4.3 7l4.2 6.8l4.2 6.5l4.2 6.1l4.2 5.7l2.1 2.7l2.1 2.5l2.1 2.4l2.1 2.3l2.1 2l2.1 1.9l2.1 1.7l2.1 1.5l2.1 1.3l2.1 1l2.1 0.8l2.2 0.6l2.1 0.2l2.1 0l2.1-0.3l2.1-0.6l2.1-0.9l2.1-1.3l2.1-1.7l2.1-2l2.1-2.4l2.1-2.7l2.1-3.2l2.1-3.6l2.1-4.1l2.1-4.4l2.1-5l2.1-5.4l2.1-5.8l2.1-6.4l2.1-6.8l2.1-7.4l2.2-7.8l2.1-8.4l2.1-8.8l2.1-9.4l2.1-9.9l2.1-10.4l2.1-10.9l2.1-11.4l2.1-11.9l4.2-25.3l4.2-27.2l2.1-14.3l4.2-29.7l4.2-31.3l6.3-49.2l6.4-51.3l14.7-121.7l6.3-50.1l4.2-31.8l4.2-29.9l2.1-14.1l2.1-13.6l2.1-12.9l2.2-12.3l2.1-11.5l2.1-10.7l2.1-10l2.1-9.1l2.1-8.3l2.1-7.4l2.1-6.4l2.1-5.6l2.1-4.6l2.1-3.6l2.1-2.6l2.1-1.7l2.1-0.8l2.1 0.3l2.1 1.2l2.1 2.1l2.1 3l2.1 4l2.1 4.8l2.1 5.6l2.2 6.5l2.1 7.2l2.1 8l2.1 8.6l2.1 9.3l2.1 9.8l2.1 10.4l2.1 10.9l2.1 11.3l2.1 11.7l4.2 24.2l4.2 25.2l10.5 63.6l6.4 36.9l4.2 23.4l2.1 11.3l4.2 21.4l2.1 10.1l2.1 9.8l2.1 9.3l2.1 8.9l2.1 8.4l2.1 8.1l2.1 7.5l2.1 7.2l2.1 6.7l2.1 6.3l2.1 5.9l2.1 5.5l2.1 5.1l2.1 4.7l2.1 4.3l2.2 4l2.1 3.7l2.1 3.4l2.1 3l2.1 2.8l2.1 2.5l2.1 2.2l2.1 2.1l2.1 1.8l2.1 1.6l2.1 1.5l2.1 1.3l2.1 1.1l2.1 1l2.1 0.9l2.1 0.7l2.1 0.7l4.2 1.1l2.1 0.4l4.3 0.7l6.3 0.7l6.3 0.4l8.4 0.3l8.4 0.2l8.4 0l31.6 0.1l30.3 0"/>
<path d="M123 519.8l81.1 0.1l61.1 0.1l46.3 0.3l40 0.4l33.6 0.5l29.5 0.8l14.7 0.5l12.7 0.5l12.6 0.6l10.5 0.6l12.6 0.8l10.6 0.8l10.5 1l10.5 1l10.5 1.3l8.5 1.1l8.4 1.3l8.4 1.4l8.4 1.5l8.4 1.8l8.5 1.9l6.3 1.6l8.4 2.4l6.3 1.9l8.4 2.9l6.3 2.3l6.4 2.6l6.3 2.7l6.3 3l4.2 2.1l6.3 3.4l6.3 3.6l6.3 4l4.2 2.8l6.4 4.4l4.2 3.1l6.3 5.1l4.2 3.5l6.3 5.6l4.2 4l4.2 4.1l4.2 4.3l6.3 6.9l4.3 4.8l6.3 7.5l4.2 5.3l4.2 5.5l6.3 8.6l4.2 6l6.3 9.3l4.2 6.4l4.2 6.6l4.3 6.8l6.3 10.4l8.4 14.3l21 36.4l4.2 7.2l4.3 7l4.2 6.7l4.2 6.5l4.2 6.2l4.2 5.7l2.1 2.7l2.1 2.5l2.1 2.5l2.1 2.2l2.1 2.1l2.1 1.9l2.1 1.7l2.1 1.5l2.1 1.3l2.1 1.1l2.1 0.8l2.2 0.6l2.1 0.3l2.1 0l2.1-0.3l2.1-0.6l2.1-0.9l2.1-1.3l2.1-1.6l2.1-1.9l2.1-2.4l2.1-2.7l2.1-3.2l2.1-3.5l2.1-4l2.1-4.5l2.1-4.8l2.1-5.4l2.1-5.8l2.1-6.3l2.1-6.8l2.1-7.3l2.2-7.8l2.1-8.3l2.1-8.8l2.1-9.3l2.1-9.9l2.1-10.3l2.1-10.9l2.1-11.3l2.1-11.9l4.2-25.2l4.2-27.1l2.1-14.2l4.2-29.6l4.2-31.2l6.3-49.1l6.4-51.3l14.7-121.6l6.3-50.2l4.2-31.7l4.2-30l2.1-14.2l2.1-13.6l2.1-13l2.2-12.3l2.1-11.5l2.1-10.9l2.1-10l2.1-9.2l2.1-8.3l2.1-7.4l2.1-6.6l2.1-5.6l2.1-4.6l2.1-3.7l2.1-2.8l2.1-1.7l2.1-0.8l2.1 0.1l2.1 1.2l2.1 2l2.1 3l2.1 3.9l2.1 4.7l2.1 5.6l2.2 6.4l2.1 7.1l2.1 7.9l2.1 8.6l2.1 9.2l2.1 9.8l2.1 10.4l2.1 10.8l2.1 11.3l2.1 11.6l4.2 24.2l4.2 25.1l10.5 63.6l6.4 36.9l4.2 23.5l2.1 11.2l4.2 21.5l2.1 10.1l2.1 9.8l2.1 9.3l2.1 8.9l2.1 8.5l2.1 8.1l2.1 7.6l2.1 7.2l2.1 6.7l2.1 6.3l2.1 5.9l2.1 5.6l2.1 5.1l2.1 4.7l2.1 4.4l2.2 4l2.1 3.7l2.1 3.3l2.1 3.1l2.1 2.8l2.1 2.5l2.1 2.3l2.1 2.1l2.1 1.8l2.1 1.6l2.1 1.5l2.1 1.3l2.1 1.1l2.1 1l2.1 0.9l2.1 0.8l2.1 0.7l4.2 1.1l2.1 0.4l4.3 0.7l6.3 0.7l6.3 0.4l8.4 0.3l8.4 0.2l10.5 0l33.7 0.1l26.1 0"/>
<path d="M123 519.8l81.1 0.1l61.1 0.1l46.3 0.3l40 0.4l33.6 0.5l29.5 0.8l14.7 0.5l12.7 0.5l12.6 0.6l10.5 0.6l12.6 0.8l10.6 0.8l10.5 0.9l10.5 1.1l10.5 1.3l8.5 1.1l8.4 1.2l8.4 1.4l8.4 1.6l8.4 1.7l8.5 2l6.3 1.6l8.4 2.3l6.3 2l8.4 2.8l6.3 2.4l6.4 2.5l6.3 2.7l6.3 3l4.2 2.1l6.3 3.4l6.3 3.6l6.3 3.9l4.2 2.8l6.4 4.5l4.2 3.1l6.3 5l4.2 3.5l6.3 5.6l4.2 4l4.2 4.1l4.2 4.4l6.3 6.8l4.3 4.8l6.3 7.5l4.2 5.3l4.2 5.5l6.3 8.5l4.2 6l6.3 9.3l4.2 6.4l4.2 6.6l4.3 6.8l6.3 10.3l10.5 17.9l18.9 32.9l6.4 10.6l4.2 6.9l4.2 6.7l4.2 6.3l4.2 6l4.2 5.5l2.1 2.5l2.1 2.4l2.1 2.3l2.1 2.1l2.1 1.9l2.1 1.7l2.1 1.6l2.1 1.3l2.1 1l2.1 0.9l2.2 0.6l2.1 0.3l2.1 0l2.1-0.2l2.1-0.6l2.1-0.9l2.1-1.2l2.1-1.6l2.1-2l2.1-2.3l2.1-2.7l2.1-3.1l2.1-3.6l2.1-3.9l2.1-4.4l2.1-4.9l2.1-5.3l2.1-5.8l2.1-6.3l2.1-6.7l2.1-7.3l2.2-7.8l2.1-8.2l2.1-8.8l2.1-9.3l2.1-9.8l2.1-10.3l2.1-10.8l2.1-11.4l2.1-11.8l4.2-25.1l4.2-27l2.1-14.2l4.2-29.6l4.2-31.1l6.3-49.1l6.4-51.2l14.7-121.6l6.3-50.2l4.2-31.7l4.2-30.1l2.1-14.2l2.1-13.6l2.1-13l2.2-12.3l2.1-11.6l2.1-10.9l2.1-10l2.1-9.3l2.1-8.3l2.1-7.5l2.1-6.6l2.1-5.7l2.1-4.7l2.1-3.7l2.1-2.8l2.1-1.8l2.1-0.8l2.1 0.1l2.1 1l2.1 2l2.1 3l2.1 3.8l2.1 4.7l2.1 5.5l2.2 6.4l2.1 7.1l2.1 7.9l2.1 8.5l2.1 9.2l2.1 9.8l2.1 10.3l2.1 10.8l4.2 22.8l2.1 12l4.2 24.6l12.6 76.2l6.4 37l4.2 23.4l2.1 11.3l4.2 21.4l2.1 10.2l2.1 9.8l2.1 9.3l2.1 9l2.1 8.5l2.1 8l2.1 7.7l2.1 7.2l2.1 6.7l2.1 6.4l2.1 5.9l2.1 5.5l2.1 5.2l2.1 4.7l2.1 4.4l2.2 4l2.1 3.7l2.1 3.4l2.1 3.1l2.1 2.8l2.1 2.5l2.1 2.3l2.1 2.1l2.1 1.8l2.1 1.7l2.1 1.4l2.1 1.3l2.1 1.2l2.1 1l2.1 0.9l2.1 0.8l2.1 0.6l4.2 1.1l2.1 0.5l4.3 0.7l6.3 0.7l6.3 0.4l8.4 0.3l8.4 0.2l10.5 0l33.7 0.1l26.1 0"/>
<path d="M123 519.8l81.1 0.1l61.1 0.1l46.3 0.3l40 0.4l33.6 0.5l29.5 0.8l14.7 0.5l12.7 0.5l12.6 0.6l10.5 0.6l12.6 0.8l10.6 0.8l10.5 0.9l10.5 1.1l10.5 1.2l8.5 1.2l8.4 1.2l8.4 1.4l8.4 1.6l8.4 1.7l8.5 1.9l6.3 1.6l8.4 2.4l6.3 1.9l8.4 2.9l6.3 2.3l6.4 2.5l6.3 2.8l6.3 2.9l4.2 2.2l6.3 3.3l6.3 3.7l6.3 3.9l4.2 2.7l6.4 4.5l4.2 3.1l6.3 5l4.2 3.5l6.3 5.6l4.2 4l6.3 6.2l4.2 4.5l6.4 6.9l4.2 4.9l4.2 5.1l4.2 5.2l4.2 5.5l6.3 8.6l4.2 5.9l6.3 9.3l4.2 6.4l4.2 6.6l4.3 6.8l6.3 10.3l10.5 17.9l18.9 32.8l6.4 10.7l4.2 6.9l4.2 6.6l4.2 6.4l4.2 6l4.2 5.5l2.1 2.5l2.1 2.5l2.1 2.2l2.1 2.1l2.1 1.9l2.1 1.8l2.1 1.5l2.1 1.3l2.1 1.1l2.1 0.8l2.2 0.6l2.1 0.4l2.1 0l2.1-0.2l2.1-0.6l2.1-0.9l2.1-1.2l2.1-1.6l2.1-1.9l2.1-2.3l2.1-2.7l2.1-3.1l2.1-3.5l2.1-4l2.1-4.4l2.1-4.8l2.1-5.3l2.1-5.8l2.1-6.2l2.1-6.8l2.1-7.2l2.2-7.7l2.1-8.3l2.1-8.7l2.1-9.3l2.1-9.8l2.1-10.3l2.1-10.8l2.1-11.3l2.1-11.8l4.2-25.1l4.2-27l2.1-14.1l4.2-29.6l4.2-31.1l6.3-49l6.4-51.1l14.7-121.6l6.3-50.2l4.2-31.8l4.2-30.1l2.1-14.2l2.1-13.6l2.1-13.1l2.2-12.3l2.1-11.6l2.1-10.9l2.1-10.1l2.1-9.2l2.1-8.4l2.1-7.5l2.1-6.6l2.1-5.7l2.1-4.7l2.1-3.8l2.1-2.8l2.1-1.9l2.1-0.9l2.1 0.1l2.1 1.1l2.1 1.9l2.1 2.9l2.1 3.8l2.1 4.7l2.1 5.5l2.2 6.3l2.1 7.1l2.1 7.9l2.1 8.5l2.1 9.1l2.1 9.8l2.1 10.3l2.1 10.8l2.1 11.2l2.1 11.6l4.2 24.1l4.2 25.1l10.5 63.5l6.4 37l4.2 23.4l4.2 22.2l4.2 20.8l2.1 9.7l2.1 9.4l2.1 9l2.1 8.5l2.1 8l2.1 7.7l2.1 7.2l2.1 6.8l2.1 6.3l2.1 6l2.1 5.5l2.1 5.1l2.1 4.8l2.1 4.4l2.2 4l2.1 3.7l2.1 3.4l2.1 3.1l2.1 2.8l2.1 2.6l2.1 2.2l2.1 2.1l2.1 1.9l2.1 1.6l2.1 1.5l2.1 1.3l2.1 1.2l2.1 1l2.1 0.9l2.1 0.7l2.1 0.7l4.2 1.1l2.1 0.5l4.3 0.7l6.3 0.7l6.3 0.4l8.4 0.3l8.4 0.2l14.8 0.1l10.5-0.1l18.9 0.1l26.1 0"/>
<path d="M123 519.8l81.1 0.1l61.1 0.1l46.3 0.3l40 0.4l33.6 0.5l29.5 0.8l14.7 0.5l12.7 0.5l12.6 0.6l10.5 0.6l12.6 0.8l10.6 0.8l10.5 0.9l10.5 1.1l10.5 1.2l8.5 1.1l8.4 1.3l8.4 1.4l8.4 1.5l8.4 1.8l8.5 1.9l6.3 1.6l8.4 2.4l6.3 1.9l8.4 2.9l6.3 2.3l6.4 2.5l6.3 2.8l6.3 2.9l4.2 2.1l6.3 3.4l6.3 3.6l6.3 3.9l4.2 2.8l6.4 4.4l4.2 3.2l6.3 4.9l4.2 3.6l6.3 5.6l4.2 3.9l6.3 6.3l4.2 4.4l6.4 6.9l4.2 4.9l4.2 5.1l4.2 5.2l4.2 5.5l6.3 8.6l4.2 5.9l6.3 9.3l4.2 6.4l4.2 6.6l4.3 6.7l6.3 10.4l10.5 17.9l18.9 32.8l6.4 10.7l4.2 6.8l4.2 6.7l4.2 6.3l4.2 6l4.2 5.5l2.1 2.6l2.1 2.4l2.1 2.3l2.1 2.1l2.1 1.9l2.1 1.8l2.1 1.5l2.1 1.3l2.1 1.1l2.1 0.9l2.2 0.6l2.1 0.3l2.1 0l2.1-0.2l2.1-0.6l2.1-0.8l2.1-1.2l2.1-1.6l2.1-1.9l2.1-2.3l2.1-2.7l2.1-3.1l2.1-3.5l2.1-3.9l2.1-4.4l2.1-4.8l2.1-5.3l2.1-5.8l2.1-6.2l2.1-6.8l2.1-7.2l2.2-7.7l2.1-8.2l2.1-8.8l2.1-9.2l2.1-9.8l2.1-10.3l2.1-10.8l2.1-11.3l2.1-11.8l2.1-12.3l2.1-12.7l4.2-27l2.1-14.1l4.2-29.6l4.2-31l6.3-49l6.4-51.1l14.7-121.6l6.3-50.2l4.2-31.8l4.2-30.1l2.1-14.2l2.1-13.7l2.1-13l2.2-12.4l2.1-11.6l2.1-10.9l2.1-10.1l2.1-9.2l2.1-8.5l2.1-7.5l2.1-6.6l2.1-5.7l2.1-4.8l2.1-3.7l2.1-2.9l2.1-1.8l2.1-0.9l2.1 0l2.1 1l2.1 2l2.1 2.9l2.1 3.8l2.1 4.6l2.1 5.5l2.2 6.3l2.1 7.1l2.1 7.8l2.1 8.5l2.1 9.1l2.1 9.8l2.1 10.3l2.1 10.7l2.1 11.3l2.1 11.5l4.2 24.2l4.2 25l10.5 63.6l6.4 36.9l4.2 23.5l4.2 22.1l4.2 20.8l2.1 9.8l2.1 9.4l2.1 8.9l2.1 8.5l2.1 8.1l2.1 7.7l2.1 7.2l2.1 6.8l2.1 6.3l2.1 6l2.1 5.5l2.1 5.1l2.1 4.8l2.1 4.4l2.2 4.1l2.1 3.7l2.1 3.4l2.1 3.1l2.1 2.8l2.1 2.5l2.1 2.3l2.1 2.1l2.1 1.8l2.1 1.7l2.1 1.5l2.1 1.3l2.1 1.1l2.1 1.1l2.1 0.9l2.1 0.7l2.1 0.7l4.2 1.1l2.1 0.5l4.3 0.7l6.3 0.7l6.3 0.4l8.4 0.3l6.3 0.2l16.9 0.1l10.5-0.1l18.9 0.1l14.8-0.1l11.3 0.1"/>
<path d="M123 519.8l81.1 0.1l61.1 0.1l46.3 0.3l40 0.4l33.6 0.5l29.5 0.8l14.7 0.5l12.7 0.5l12.6 0.6l10.5 0.6l12.6 0.8l10.6 0.8l10.5 0.9l10.5 1.1l10.5 1.2l8.5 1.1l8.4 1.3l8.4 1.4l8.4 1.5l8.4 1.8l8.5 1.9l6.3 1.6l8.4 2.4l6.3 1.9l8.4 2.8l6.3 2.4l6.4 2.5l6.3 2.7l6.3 3l4.2 2.1l6.3 3.4l6.3 3.6l6.3 3.9l4.2 2.8l6.4 4.4l4.2 3.1l6.3 5l4.2 3.5l6.3 5.6l4.2 4l6.3 6.2l4.2 4.4l6.4 7l4.2 4.8l4.2 5.1l4.2 5.3l4.2 5.4l6.3 8.6l4.2 5.9l6.3 9.3l4.2 6.4l4.2 6.6l4.3 6.7l6.3 10.4l10.5 17.9l18.9 32.8l6.4 10.7l4.2 6.9l4.2 6.6l4.2 6.4l4.2 5.9l4.2 5.5l2.1 2.6l2.1 2.4l2.1 2.3l2.1 2.1l2.1 1.9l2.1 1.8l2.1 1.5l2.1 1.3l2.1 1.1l2.1 0.9l2.2 0.6l2.1 0.3l2.1 0.1l2.1-0.2l2.1-0.6l2.1-0.9l2.1-1.2l2.1-1.5l2.1-1.9l2.1-2.3l2.1-2.7l2.1-3.1l2.1-3.5l2.1-3.9l2.1-4.4l2.1-4.8l2.1-5.3l2.1-5.7l2.1-6.3l2.1-6.7l2.1-7.2l2.2-7.7l2.1-8.2l2.1-8.8l2.1-9.2l2.1-9.8l2.1-10.3l2.1-10.7l2.1-11.3l2.1-11.8l2.1-12.3l2.1-12.8l4.2-26.9l2.1-14.1l4.2-29.5l4.2-31.1l6.3-49l6.4-51.1l14.7-121.5l6.3-50.2l4.2-31.8l4.2-30.1l2.1-14.3l2.1-13.6l2.1-13.1l2.2-12.3l2.1-11.7l2.1-10.9l2.1-10.1l2.1-9.3l2.1-8.4l2.1-7.5l2.1-6.7l2.1-5.7l2.1-4.7l2.1-3.8l2.1-2.9l2.1-1.9l2.1-0.9l2.1 0.1l2.1 1l2.1 1.9l2.1 2.9l2.1 3.8l2.1 4.6l2.1 5.5l2.2 6.3l2.1 7.1l2.1 7.8l2.1 8.5l2.1 9.1l2.1 9.7l2.1 10.3l2.1 10.8l2.1 11.2l2.1 11.6l4.2 24.1l4.2 25l10.5 63.5l6.4 37l4.2 23.4l4.2 22.2l4.2 20.8l2.1 9.8l2.1 9.4l2.1 8.9l2.1 8.5l2.1 8.1l2.1 7.7l2.1 7.2l2.1 6.8l2.1 6.4l2.1 5.9l2.1 5.5l2.1 5.2l2.1 4.8l2.1 4.4l2.2 4l2.1 3.7l2.1 3.4l2.1 3.1l2.1 2.8l2.1 2.6l2.1 2.3l2.1 2.1l2.1 1.8l2.1 1.7l2.1 1.4l2.1 1.4l2.1 1.1l2.1 1l2.1 0.9l2.1 0.8l2.1 0.7l4.2 1.1l2.1 0.5l4.3 0.7l6.3 0.7l6.3 0.4l8.4 0.3l6.3 0.2l19 0.1l8.4-0.1l8.4 0.1l6.3 0l4.2 0l4.2 0l6.3 0l4.3-0.1l6.3 0.1l5 0"/>
<path d="M123 519.8l81.1 0.1l61.1 0.1l48.4 0.3l40 0.4l33.6 0.6l29.5 0.7l14.7 0.5l12.7 0.6l12.6 0.6l10.5 0.6l12.7 0.8l10.5 0.9l10.5 0.9l10.5 1.1l10.5 1.3l8.5 1.1l8.4 1.3l8.4 1.4l8.4 1.6l8.4 1.8l8.5 2l6.3 1.7l8.4 2.4l6.3 2l8.4 2.9l6.3 2.4l6.4 2.6l6.3 2.8l6.3 3l4.2 2.2l6.3 3.4l6.3 3.7l6.3 4l4.2 2.9l6.4 4.5l4.2 3.2l6.3 5.1l4.2 3.6l6.3 5.7l4.2 4.1l4.2 4.2l4.2 4.4l6.4 6.9l4.2 4.9l4.2 5.1l4.2 5.2l4.2 5.5l6.3 8.6l4.2 5.9l6.3 9.3l4.2 6.4l4.2 6.6l4.3 6.7l6.3 10.4l10.5 17.8l18.9 32.8l6.4 10.7l4.2 6.9l4.2 6.6l4.2 6.4l4.2 6l4.2 5.5l2.1 2.6l2.1 2.4l2.1 2.3l2.1 2.1l2.1 1.9l2.1 1.7l2.1 1.6l2.1 1.3l2.1 1.1l2.1 0.9l2.2 0.6l2.1 0.3l2.1 0.1l2.1-0.3l2.1-0.5l2.1-0.9l2.1-1.2l2.1-1.5l2.1-1.9l2.1-2.3l2.1-2.7l2.1-3.1l2.1-3.5l2.1-3.9l2.1-4.4l2.1-4.8l2.1-5.3l2.1-5.7l2.1-6.2l2.1-6.7l2.1-7.3l2.2-7.7l2.1-8.2l2.1-8.7l2.1-9.3l2.1-9.7l2.1-10.3l2.1-10.7l2.1-11.3l2.1-11.8l2.1-12.3l2.1-12.7l4.2-27l2.1-14.1l4.2-29.5l4.2-31l6.3-49l6.4-51.1l14.7-121.6l6.3-50.1l4.2-31.9l4.2-30l2.1-14.3l2.1-13.7l2.1-13l2.2-12.4l2.1-11.6l2.1-10.9l2.1-10.2l2.1-9.2l2.1-8.5l2.1-7.5l2.1-6.7l2.1-5.7l2.1-4.7l2.1-3.9l2.1-2.8l2.1-1.9l2.1-0.9l2.1 0l2.1 1l2.1 2l2.1 2.8l2.1 3.8l2.1 4.6l2.1 5.5l2.2 6.3l2.1 7l2.1 7.8l2.1 8.5l2.1 9.1l2.1 9.8l2.1 10.2l2.1 10.8l2.1 11.2l2.1 11.6l4.2 24.1l4.2 25l10.5 63.6l6.4 36.9l4.2 23.5l4.2 22.2l4.2 20.7l2.1 9.8l2.1 9.4l2.1 9l2.1 8.5l2.1 8.1l2.1 7.6l2.1 7.2l2.1 6.8l2.1 6.4l2.1 6l2.1 5.5l2.1 5.2l2.1 4.7l2.1 4.4l2.2 4.1l2.1 3.7l2.1 3.4l2.1 3.1l2.1 2.8l2.1 2.6l2.1 2.3l2.1 2l2.1 1.9l2.1 1.7l2.1 1.4l2.1 1.4l2.1 1.1l2.1 1l2.1 0.9l2.1 0.8l2.1 0.7l4.2 1.1l2.1 0.5l4.3 0.7l6.3 0.7l6.3 0.4l8.4 0.3l6.3 0.2l19 0.1l8.4-0.1l8.4 0.1l8.4 0l2.1 0.1l4.2-0.1l6.3 0l4.3-0.1l6.3 0.1l5 0"/>
<path d="M123 519.8l81.1 0.1l61.1 0.1l48.4 0.3l40 0.4l33.6 0.6l29.5 0.7l14.7 0.5l12.7 0.6l12.6 0.6l10.5 0.6l12.7 0.8l10.5 0.9l10.5 0.9l10.5 1.1l10.5 1.3l8.5 1.1l8.4 1.3l8.4 1.4l8.4 1.6l8.4 1.8l8.5 2l6.3 1.7l8.4 2.4l6.3 2l8.4 2.9l6.3 2.4l6.4 2.6l6.3 2.8l6.3 3l4.2 2.2l6.3 3.4l6.3 3.7l6.3 4l4.2 2.9l6.4 4.5l4.2 3.2l6.3 5.1l4.2 3.6l6.3 5.7l4.2 4.1l4.2 4.2l4.2 4.4l6.4 6.9l4.2 4.9l4.2 5l4.2 5.3l4.2 5.5l6.3 8.5l4.2 6l6.3 9.2l4.2 6.4l4.2 6.6l4.3 6.8l6.3 10.3l10.5 17.9l18.9 32.8l6.4 10.7l4.2 6.9l4.2 6.6l4.2 6.4l4.2 5.9l4.2 5.6l2.1 2.5l2.1 2.5l2.1 2.2l2.1 2.1l2.1 2l2.1 1.7l2.1 1.6l2.1 1.3l2.1 1.1l2.1 0.8l2.2 0.6l2.1 0.4l2.1 0l2.1-0.2l2.1-0.5l2.1-0.9l2.1-1.2l2.1-1.5l2.1-1.9l2.1-2.3l2.1-2.7l2.1-3.1l2.1-3.5l2.1-3.9l2.1-4.4l2.1-4.8l2.1-5.2l2.1-5.8l2.1-6.2l2.1-6.7l2.1-7.2l2.2-7.7l2.1-8.2l2.1-8.8l2.1-9.2l2.1-9.8l2.1-10.2l2.1-10.8l2.1-11.3l2.1-11.7l2.1-12.3l2.1-12.8l4.2-26.9l2.1-14.1l4.2-29.5l4.2-31l6.3-49l6.4-51.1l14.7-121.6l6.3-50.1l4.2-31.9l4.2-30l2.1-14.3l2.1-13.7l2.1-13l2.2-12.4l2.1-11.7l2.1-10.9l2.1-10.1l2.1-9.3l2.1-8.4l2.1-7.5l2.1-6.7l2.1-5.7l2.1-4.8l2.1-3.8l2.1-2.9l2.1-1.9l2.1-0.9l2.1 0.1l2.1 0.9l2.1 2l2.1 2.8l2.1 3.8l2.1 4.6l2.1 5.5l2.2 6.3l2.1 7l2.1 7.8l2.1 8.5l2.1 9.1l2.1 9.7l2.1 10.3l2.1 10.8l2.1 11.2l2.1 11.5l4.2 24.2l4.2 24.9l10.5 63.6l6.4 37l4.2 23.4l4.2 22.2l4.2 20.8l2.1 9.8l2.1 9.4l2.1 8.9l2.1 8.5l2.1 8.1l2.1 7.7l2.1 7.2l2.1 6.8l2.1 6.4l2.1 5.9l2.1 5.6l2.1 5.1l2.1 4.8l2.1 4.4l2.2 4.1l2.1 3.7l2.1 3.4l2.1 3.1l2.1 2.8l2.1 2.6l2.1 2.3l2.1 2l2.1 1.9l2.1 1.7l2.1 1.4l2.1 1.3l2.1 1.2l2.1 1l2.1 0.9l2.1 0.8l2.1 0.7l4.2 1.1l2.1 0.5l4.3 0.7l6.3 0.7l6.3 0.4l8.4 0.3l6.3 0.2l19 0.1l8.4-0.1l8.4 0.1l4.2 0l4.2-0.1l2.1 0.2l4.2-0.1l6.3 0l4.3-0.1l6.3 0.1l2.1-0.1l2.9 0.1"/>
<path d="M123 519.8l81.1 0.1l61.1 0.1l48.4 0.3l40 0.4l33.6 0.6l29.5 0.7l14.7 0.5l12.7 0.6l12.6 0.6l10.5 0.6l12.7 0.8l10.5 0.9l10.5 0.9l10.5 1.1l10.5 1.3l8.5 1.1l8.4 1.3l8.4 1.4l8.4 1.6l8.4 1.8l8.5 2l6.3 1.7l8.4 2.4l6.3 2l8.4 2.9l6.3 2.4l6.4 2.6l6.3 2.8l6.3 3l4.2 2.2l6.3 3.4l6.3 3.7l6.3 4l4.2 2.9l6.4 4.5l4.2 3.2l6.3 5.1l4.2 3.6l6.3 5.7l4.2 4l4.2 4.3l4.2 4.4l6.4 6.9l4.2 4.9l4.2 5l4.2 5.3l4.2 5.5l6.3 8.5l4.2 5.9l6.3 9.3l4.2 6.4l4.2 6.6l4.3 6.7l6.3 10.4l10.5 17.9l18.9 32.8l6.4 10.6l4.2 6.9l4.2 6.7l4.2 6.3l4.2 6l4.2 5.5l2.1 2.6l2.1 2.4l2.1 2.3l2.1 2.1l2.1 2l2.1 1.7l2.1 1.5l2.1 1.4l2.1 1.1l2.1 0.8l2.2 0.6l2.1 0.4l2.1 0l2.1-0.2l2.1-0.5l2.1-0.9l2.1-1.2l2.1-1.5l2.1-1.9l2.1-2.3l2.1-2.7l2.1-3.1l2.1-3.5l2.1-3.9l2.1-4.3l2.1-4.9l2.1-5.2l2.1-5.8l2.1-6.2l2.1-6.7l2.1-7.2l2.2-7.7l2.1-8.2l2.1-8.7l2.1-9.3l2.1-9.7l2.1-10.3l2.1-10.7l2.1-11.3l2.1-11.8l2.1-12.3l2.1-12.7l4.2-26.9l2.1-14.1l4.2-29.6l4.2-31l6.3-48.9l6.4-51.1l14.7-121.6l6.3-50.2l4.2-31.8l4.2-30.1l2.1-14.2l2.1-13.7l2.1-13.1l2.2-12.3l2.1-11.7l2.1-10.9l2.1-10.1l2.1-9.3l2.1-8.4l2.1-7.6l2.1-6.7l2.1-5.7l2.1-4.8l2.1-3.8l2.1-2.8l2.1-1.9l2.1-1l2.1 0.1l2.1 1l2.1 1.9l2.1 2.8l2.1 3.8l2.1 4.6l2.1 5.5l2.2 6.3l2.1 7l2.1 7.8l2.1 8.5l2.1 9.1l2.1 9.7l2.1 10.3l2.1 10.7l2.1 11.2l2.1 11.6l4.2 24.1l4.2 25l10.5 63.6l6.4 36.9l4.2 23.5l4.2 22.2l4.2 20.8l2.1 9.8l2.1 9.3l2.1 9l2.1 8.5l2.1 8.1l2.1 7.7l2.1 7.2l2.1 6.8l2.1 6.4l2.1 5.9l2.1 5.6l2.1 5.1l2.1 4.8l2.1 4.4l2.2 4.1l2.1 3.7l2.1 3.4l2.1 3.1l2.1 2.8l2.1 2.6l2.1 2.3l2.1 2l2.1 1.9l2.1 1.6l2.1 1.5l2.1 1.3l2.1 1.2l2.1 1l2.1 0.9l2.1 0.8l2.1 0.7l4.2 1.1l2.1 0.5l4.3 0.7l2.1 0.2l4.2 0.5l6.3 0.4l8.4 0.3l6.3 0.2l10.5 0.1l2.1-0.1l6.4 0.1l2.1-0.1l2.1 0.1l4.2-0.1l12.6 0.1l4.2-0.1l2.1 0.2l4.2-0.2l4.2 0.1l2.1 0.1l4.3-0.2l6.3 0.1l2.1-0.1l2.9 0.1"/>
<path d="M123 519.8l81.1 0.1l61.1 0.1l48.4 0.3l40 0.4l33.6 0.6l29.5 0.7l14.7 0.5l12.7 0.6l12.6 0.6l10.5 0.6l12.7 0.8l10.5 0.9l10.5 0.9l10.5 1.1l10.5 1.3l8.5 1.1l8.4 1.3l8.4 1.4l8.4 1.6l8.4 1.8l8.5 2l6.3 1.7l8.4 2.4l6.3 2l8.4 2.9l6.3 2.4l6.4 2.6l6.3 2.8l6.3 3l4.2 2.1l6.3 3.5l6.3 3.7l6.3 4l4.2 2.9l6.4 4.5l4.2 3.2l6.3 5.1l4.2 3.6l6.3 5.7l4.2 4l4.2 4.2l4.2 4.4l6.4 7l4.2 4.9l4.2 5l4.2 5.3l4.2 5.4l6.3 8.6l4.2 5.9l6.3 9.3l4.2 6.4l4.2 6.6l4.3 6.7l6.3 10.4l10.5 17.9l18.9 32.8l6.4 10.6l4.2 6.9l4.2 6.7l4.2 6.3l4.2 6l4.2 5.5l2.1 2.6l2.1 2.4l2.1 2.3l2.1 2.1l2.1 1.9l2.1 1.8l2.1 1.5l2.1 1.4l2.1 1.1l2.1 0.8l2.2 0.6l2.1 0.4l2.1 0l2.1-0.2l2.1-0.5l2.1-0.9l2.1-1.2l2.1-1.5l2.1-1.9l2.1-2.3l2.1-2.7l2.1-3.1l2.1-3.5l2.1-3.9l2.1-4.3l2.1-4.9l2.1-5.2l2.1-5.8l2.1-6.2l2.1-6.7l2.1-7.2l2.2-7.7l2.1-8.2l2.1-8.7l2.1-9.3l2.1-9.7l2.1-10.3l2.1-10.7l2.1-11.3l2.1-11.8l2.1-12.2l2.1-12.8l4.2-26.9l2.1-14.1l4.2-29.5l4.2-31l6.3-49l6.4-51.1l14.7-121.5l6.3-50.2l4.2-31.9l4.2-30l2.1-14.3l2.1-13.7l2.1-13l2.2-12.4l2.1-11.7l2.1-10.9l2.1-10.1l2.1-9.3l2.1-8.4l2.1-7.6l2.1-6.6l2.1-5.8l2.1-4.7l2.1-3.9l2.1-2.8l2.1-1.9l2.1-0.9l2.1 0l2.1 1l2.1 1.9l2.1 2.8l2.1 3.8l2.1 4.6l2.1 5.5l2.2 6.3l2.1 7l2.1 7.8l2.1 8.5l2.1 9.1l2.1 9.7l2.1 10.3l2.1 10.7l2.1 11.2l2.1 11.6l4.2 24.1l4.2 25l10.5 63.6l6.4 36.9l4.2 23.5l4.2 22.2l4.2 20.7l2.1 9.8l2.1 9.4l2.1 9l2.1 8.5l2.1 8.1l2.1 7.7l2.1 7.2l2.1 6.8l2.1 6.3l2.1 6l2.1 5.6l2.1 5.1l2.1 4.8l2.1 4.4l2.2 4l2.1 3.8l2.1 3.4l2.1 3.1l2.1 2.8l2.1 2.5l2.1 2.4l2.1 2l2.1 1.9l2.1 1.6l2.1 1.5l2.1 1.3l2.1 1.2l2.1 1l2.1 0.9l2.1 0.8l2.1 0.7l4.2 1.1l2.1 0.5l4.3 0.7l2.1 0.2l4.2 0.5l6.3 0.4l12.6 0.4l12.6 0.2l2.1-0.1l6.4 0.1l2.1-0.1l2.1 0.1l4.2-0.1l12.6 0.1l4.2-0.1l2.1 0.2l4.2-0.2l4.2 0.1l2.1 0.1l4.3-0.2l2.1 0l4.2 0.1l2.1-0.1l2.9 0.1"/>
<path d="M123 519.8l81.1 0.1l61.1 0.1l48.4 0.3l40 0.4l33.6 0.6l29.5 0.7l14.7 0.5l12.7 0.6l12.6 0.6l10.5 0.6l12.7 0.8l10.5 0.9l10.5 0.9l10.5 1.1l10.5 1.3l8.5 1.1l8.4 1.3l8.4 1.4l8.4 1.6l8.4 1.8l8.5 2l6.3 1.7l8.4 2.4l6.3 2l8.4 2.9l6.3 2.4l6.4 2.6l6.3 2.8l6.3 3l4.2 2.1l6.3 3.5l6.3 3.7l6.3 4l4.2 2.9l6.4 4.5l4.2 3.2l6.3 5.1l4.2 3.6l6.3 5.7l4.2 4l4.2 4.2l4.2 4.4l6.4 7l4.2 4.9l4.2 5l4.2 5.3l4.2 5.4l6.3 8.6l4.2 5.9l6.3 9.3l4.2 6.4l4.2 6.6l4.3 6.7l6.3 10.4l10.5 17.9l18.9 32.8l6.4 10.6l4.2 6.9l4.2 6.7l4.2 6.3l4.2 6l4.2 5.5l2.1 2.6l2.1 2.4l2.1 2.3l2.1 2.1l2.1 1.9l2.1 1.8l2.1 1.5l2.1 1.3l2.1 1.1l2.1 0.9l2.2 0.6l2.1 0.4l2.1 0l2.1-0.2l2.1-0.5l2.1-0.9l2.1-1.2l2.1-1.5l2.1-1.9l2.1-2.3l2.1-2.7l2.1-3.1l2.1-3.5l2.1-3.9l2.1-4.3l2.1-4.8l2.1-5.3l2.1-5.8l2.1-6.2l2.1-6.7l2.1-7.2l2.2-7.7l2.1-8.2l2.1-8.7l2.1-9.2l2.1-9.8l2.1-10.2l2.1-10.8l2.1-11.3l2.1-11.8l2.1-12.2l2.1-12.8l4.2-26.9l2.1-14.1l4.2-29.5l4.2-31l6.3-49l6.4-51l14.7-121.6l6.3-50.2l4.2-31.8l4.2-30.1l2.1-14.3l2.1-13.6l2.1-13.1l2.2-12.4l2.1-11.6l2.1-10.9l2.1-10.2l2.1-9.3l2.1-8.4l2.1-7.6l2.1-6.6l2.1-5.7l2.1-4.8l2.1-3.8l2.1-2.9l2.1-1.9l2.1-0.9l2.1 0l2.1 1l2.1 1.9l2.1 2.8l2.1 3.8l2.1 4.6l2.1 5.5l2.2 6.3l2.1 7l2.1 7.8l2.1 8.5l2.1 9.1l2.1 9.7l2.1 10.3l2.1 10.7l2.1 11.2l2.1 11.6l4.2 24.1l4.2 25l10.5 63.5l6.4 37l4.2 23.5l4.2 22.2l4.2 20.7l2.1 9.8l2.1 9.4l2.1 9l2.1 8.5l2.1 8.1l2.1 7.6l2.1 7.3l2.1 6.8l2.1 6.3l2.1 6l2.1 5.6l2.1 5.1l2.1 4.8l2.1 4.4l2.2 4l2.1 3.8l2.1 3.4l2.1 3.1l2.1 2.8l2.1 2.5l2.1 2.3l2.1 2.1l2.1 1.9l2.1 1.6l2.1 1.5l2.1 1.3l2.1 1.2l2.1 1l2.1 0.9l2.1 0.8l2.1 0.7l4.2 1.1l2.1 0.5l4.3 0.7l2.1 0.2l4.2 0.5l6.3 0.4l12.6 0.4l12.6 0.2l2.1-0.1l6.4 0.1l2.1-0.1l2.1 0.1l4.2-0.1l8.4 0.1l2.1 0l2.1 0l4.2-0.1l2.1 0.3l4.2-0.3l4.2 0.1l2.1 0.1l4.3-0.2l2.1 0l4.2 0.1l2.1-0.1l2.9 0.1"/>
<path d="M123 519.8l81.1 0.1l61.1 0.1l48.4 0.3l40 0.4l33.6 0.6l29.5 0.7l14.7 0.5l12.7 0.6l12.6 0.6l10.5 0.6l12.7 0.8l10.5 0.9l10.5 0.9l10.5 1.1l10.5 1.3l8.5 1.1l8.4 1.3l8.4 1.4l8.4 1.6l8.4 1.8l8.5 2l6.3 1.7l8.4 2.4l6.3 2l8.4 2.9l6.3 2.4l6.4 2.6l6.3 2.8l6.3 3l4.2 2.1l6.3 3.5l6.3 3.7l6.3 4l4.2 2.9l6.4 4.5l4.2 3.2l6.3 5.1l4.2 3.6l6.3 5.7l4.2 4l4.2 4.2l4.2 4.4l6.4 7l4.2 4.8l4.2 5.1l4.2 5.3l4.2 5.4l6.3 8.6l4.2 5.9l6.3 9.3l4.2 6.4l4.2 6.6l4.3 6.7l6.3 10.4l10.5 17.8l18.9 32.8l6.4 10.7l4.2 6.9l4.2 6.7l4.2 6.3l4.2 6l4.2 5.5l2.1 2.6l2.1 2.4l2.1 2.3l2.1 2.1l2.1 1.9l2.1 1.8l2.1 1.5l2.1 1.3l2.1 1.1l2.1 0.9l2.2 0.6l2.1 0.4l2.1 0l2.1-0.2l2.1-0.5l2.1-0.9l2.1-1.2l2.1-1.5l2.1-1.9l2.1-2.3l2.1-2.7l2.1-3.1l2.1-3.5l2.1-3.9l2.1-4.3l2.1-4.8l2.1-5.3l2.1-5.8l2.1-6.2l2.1-6.7l2.1-7.2l2.2-7.7l2.1-8.2l2.1-8.7l2.1-9.2l2.1-9.8l2.1-10.2l2.1-10.8l2.1-11.3l2.1-11.7l2.1-12.3l2.1-12.8l4.2-26.9l2.1-14.1l4.2-29.5l4.2-31l6.3-48.9l6.4-51.1l14.7-121.6l6.3-50.2l4.2-31.8l4.2-30.1l2.1-14.3l2.1-13.6l2.1-13.1l2.2-12.4l2.1-11.6l2.1-10.9l2.1-10.2l2.1-9.2l2.1-8.5l2.1-7.5l2.1-6.7l2.1-5.7l2.1-4.8l2.1-3.8l2.1-2.9l2.1-1.9l2.1-0.9l2.1 0l2.1 1l2.1 1.9l2.1 2.9l2.1 3.7l2.1 4.6l2.1 5.5l2.2 6.3l2.1 7l2.1 7.8l2.1 8.5l2.1 9.1l2.1 9.7l2.1 10.3l2.1 10.7l2.1 11.2l2.1 11.6l4.2 24.1l4.2 25l10.5 63.5l6.4 37l4.2 23.4l4.2 22.3l4.2 20.7l2.1 9.8l2.1 9.4l2.1 9l2.1 8.5l2.1 8.1l2.1 7.6l2.1 7.3l2.1 6.8l2.1 6.3l2.1 6l2.1 5.5l2.1 5.2l2.1 4.8l2.1 4.4l2.2 4l2.1 3.8l2.1 3.4l2.1 3.1l2.1 2.8l2.1 2.5l2.1 2.3l2.1 2.1l2.1 1.9l2.1 1.6l2.1 1.5l2.1 1.3l2.1 1.2l2.1 1l2.1 0.9l2.1 0.8l2.1 0.7l4.2 1.1l2.1 0.5l4.3 0.7l2.1 0.2l4.2 0.5l6.3 0.4l12.6 0.4l12.6 0.2l2.1-0.1l4.3 0l2.1 0.1l2.1-0.1l2.1 0.1l4.2-0.1l8.4 0.1l2.1-0.1l2.1 0.1l4.2-0.2l2.1 0.4l4.2-0.3l4.2 0.1l2.1 0.1l4.3-0.2l2.1 0l4.2 0.2l2.1-0.2l2.9 0.1"/>
<path d="M123 519.8l81.1 0.1l61.1 0.1l48.4 0.3l40 0.4l33.6 0.6l29.5 0.7l14.7 0.5l12.7 0.6l12.6 0.6l10.5 0.6l12.7 0.8l10.5 0.9l10.5 0.9l10.5 1.1l10.5 1.3l8.5 1.1l8.4 1.3l8.4 1.4l8.4 1.6l8.4 1.8l8.5 2l6.3 1.7l8.4 2.4l6.3 2l8.4 2.9l6.3 2.4l6.4 2.6l6.3 2.8l6.3 3l4.2 2.1l6.3 3.5l6.3 3.7l6.3 4l4.2 2.8l6.4 4.6l4.2 3.2l6.3 5.1l4.2 3.6l6.3 5.7l4.2 4l4.2 4.2l4.2 4.4l6.4 7l4.2 4.8l4.2 5.1l4.2 5.3l4.2 5.4l6.3 8.6l4.2 5.9l6.3 9.3l4.2 6.4l4.2 6.6l4.3 6.7l6.3 10.4l10.5 17.8l18.9 32.8l6.4 10.7l4.2 6.9l4.2 6.6l4.2 6.4l4.2 6l4.2 5.5l2.1 2.6l2.1 2.4l2.1 2.3l2.1 2.1l2.1 1.9l2.1 1.8l2.1 1.5l2.1 1.3l2.1 1.1l2.1 0.9l2.2 0.6l2.1 0.4l2.1 0l2.1-0.2l2.1-0.5l2.1-0.9l2.1-1.2l2.1-1.5l2.1-1.9l2.1-2.3l2.1-2.7l2.1-3.1l2.1-3.5l2.1-3.9l2.1-4.3l2.1-4.8l2.1-5.3l2.1-5.7l2.1-6.3l2.1-6.7l2.1-7.2l2.2-7.7l2.1-8.2l2.1-8.7l2.1-9.2l2.1-9.8l2.1-10.2l2.1-10.8l2.1-11.3l2.1-11.7l2.1-12.3l2.1-12.8l4.2-26.8l2.1-14.2l4.2-29.5l4.2-31l6.3-48.9l6.4-51.1l14.7-121.6l6.3-50.2l4.2-31.8l4.2-30.1l2.1-14.2l2.1-13.7l2.1-13.1l2.2-12.3l2.1-11.7l2.1-10.9l2.1-10.1l2.1-9.3l2.1-8.5l2.1-7.5l2.1-6.7l2.1-5.7l2.1-4.8l2.1-3.8l2.1-2.9l2.1-1.9l2.1-0.9l2.1 0l2.1 1l2.1 1.9l2.1 2.9l2.1 3.7l2.1 4.6l2.1 5.5l2.2 6.3l2.1 7l2.1 7.8l2.1 8.5l2.1 9.1l2.1 9.7l2.1 10.3l2.1 10.7l2.1 11.2l2.1 11.6l4.2 24.1l4.2 25l10.5 63.5l6.4 37l4.2 23.4l4.2 22.2l4.2 20.8l2.1 9.8l2.1 9.4l2.1 9l2.1 8.5l2.1 8.1l2.1 7.6l2.1 7.3l2.1 6.8l2.1 6.3l2.1 6l2.1 5.5l2.1 5.2l2.1 4.8l2.1 4.4l2.2 4l2.1 3.8l2.1 3.4l2.1 3.1l2.1 2.8l2.1 2.5l2.1 2.3l2.1 2.1l2.1 1.9l2.1 1.6l2.1 1.5l2.1 1.3l2.1 1.2l2.1 1l2.1 0.9l2.1 0.8l2.1 0.7l4.2 1.1l2.1 0.5l4.3 0.7l2.1 0.2l4.2 0.5l6.3 0.4l12.6 0.4l12.6 0.2l2.1-0.1l4.3 0l2.1 0.1l2.1-0.1l2.1 0.1l4.2-0.1l8.4 0.1l2.1-0.1l2.1 0.1l4.2-0.2l2.1 0.4l4.2-0.3l4.2 0.1l2.1 0.1l4.3-0.2l2.1 0l4.2 0.2l2.1-0.2l2.9 0.1"/>
<path d="M123 519.8l81.1 0.1l61.1 0.1l48.4 0.3l40 0.4l33.6 0.6l29.5 0.7l14.7 0.5l12.7 0.6l12.6 0.6l10.5 0.6l12.7 0.8l10.5 0.9l10.5 0.9l10.5 1.1l10.5 1.3l8.5 1.1l8.4 1.3l8.4 1.4l8.4 1.6l8.4 1.8l8.5 2l6.3 1.7l8.4 2.4l6.3 2l8.4 2.9l6.3 2.4l6.4 2.6l6.3 2.8l6.3 3l4.2 2.1l6.3 3.5l6.3 3.7l6.3 4l4.2 2.8l6.4 4.6l4.2 3.2l6.3 5.1l4.2 3.6l6.3 5.7l4.2 4l4.2 4.2l4.2 4.4l6.4 7l4.2 4.8l4.2 5.1l4.2 5.3l4.2 5.4l6.3 8.6l4.2 5.9l6.3 9.3l4.2 6.4l4.2 6.6l4.3 6.7l6.3 10.4l10.5 17.8l18.9 32.8l6.4 10.7l4.2 6.9l4.2 6.6l4.2 6.4l4.2 6l4.2 5.5l2.1 2.6l2.1 2.4l2.1 2.3l2.1 2.1l2.1 1.9l2.1 1.8l2.1 1.5l2.1 1.3l2.1 1.1l2.1 0.9l2.2 0.6l2.1 0.4l2.1 0l2.1-0.2l2.1-0.5l2.1-0.9l2.1-1.2l2.1-1.5l2.1-2l2.1-2.2l2.1-2.7l2.1-3.1l2.1-3.5l2.1-3.9l2.1-4.3l2.1-4.8l2.1-5.3l2.1-5.7l2.1-6.3l2.1-6.7l2.1-7.2l2.2-7.7l2.1-8.2l2.1-8.7l2.1-9.2l2.1-9.8l2.1-10.2l2.1-10.8l2.1-11.3l2.1-11.7l2.1-12.3l2.1-12.7l4.2-26.9l2.1-14.2l4.2-29.5l4.2-31l6.3-48.9l6.4-51.1l14.7-121.6l6.3-50.2l4.2-31.8l4.2-30.1l2.1-14.2l2.1-13.7l2.1-13.1l2.2-12.3l2.1-11.7l2.1-10.9l2.1-10.1l2.1-9.3l2.1-8.5l2.1-7.5l2.1-6.7l2.1-5.7l2.1-4.8l2.1-3.8l2.1-2.9l2.1-1.9l2.1-0.9l2.1 0l2.1 1l2.1 1.9l2.1 2.9l2.1 3.7l2.1 4.6l2.1 5.5l2.2 6.3l2.1 7l2.1 7.8l2.1 8.5l2.1 9.1l2.1 9.7l2.1 10.3l2.1 10.7l2.1 11.2l2.1 11.6l4.2 24.1l4.2 25l10.5 63.5l6.4 37l4.2 23.4l4.2 22.2l4.2 20.8l2.1 9.8l2.1 9.4l2.1 9l2.1 8.5l2.1 8.1l2.1 7.6l2.1 7.3l2.1 6.8l2.1 6.3l2.1 6l2.1 5.5l2.1 5.2l2.1 4.8l2.1 4.4l2.2 4l2.1 3.8l2.1 3.4l2.1 3.1l2.1 2.8l2.1 2.5l2.1 2.3l2.1 2.1l2.1 1.9l2.1 1.6l2.1 1.5l2.1 1.3l2.1 1.2l2.1 1l2.1 0.9l2.1 0.8l2.1 0.7l4.2 1.1l2.1 0.5l4.3 0.7l2.1 0.2l4.2 0.5l6.3 0.4l12.6 0.4l10.5 0.1l2.1 0.1l2.1-0.1l4.3 0l2.1 0.1l2.1-0.1l2.1 0.1l4.2-0.1l8.4 0.1l2.1-0.1l2.1 0.1l4.2-0.2l2.1 0.4l4.2-0.3l4.2 0.1l2.1 0.1l4.3-0.2l2.1 0l4.2 0.2l2.1-0.2l2.9 0.1"/>
<path d="M123 519.8l81.1 0.1l61.1 0.1l48.4 0.3l40 0.4l33.6 0.6l29.5 0.7l14.7 0.5l12.7 0.6l12.6 0.6l10.5 0.6l12.7 0.8l10.5 0.9l10.5 0.9l10.5 1.1l10.5 1.3l8.5 1.1l8.4 1.3l8.4 1.4l8.4 1.6l8.4 1.8l8.5 2l6.3 1.7l8.4 2.4l6.3 2l8.4 2.9l6.3 2.4l6.4 2.6l6.3 2.8l6.3 3l4.2 2.1l6.3 3.5l6.3 3.7l6.3 4l4.2 2.8l6.4 4.6l4.2 3.2l6.3 5.1l4.2 3.6l6.3 5.7l4.2 4l4.2 4.2l4.2 4.4l6.4 7l4.2 4.8l4.2 5.1l4.2 5.3l4.2 5.4l6.3 8.6l4.2 5.9l6.3 9.3l4.2 6.4l4.2 6.6l4.3 6.7l6.3 10.4l10.5 17.8l18.9 32.8l6.4 10.7l4.2 6.9l4.2 6.6l4.2 6.4l4.2 6l4.2 5.5l2.1 2.6l2.1 2.4l2.1 2.3l2.1 2.1l2.1 1.9l2.1 1.8l2.1 1.5l2.1 1.3l2.1 1.1l2.1 0.9l2.2 0.6l2.1 0.4l2.1 0l2.1-0.2l2.1-0.6l2.1-0.8l2.1-1.2l2.1-1.5l2.1-2l2.1-2.2l2.1-2.7l2.1-3.1l2.1-3.5l2.1-3.9l2.1-4.3l2.1-4.8l2.1-5.3l2.1-5.7l2.1-6.3l2.1-6.7l2.1-7.2l2.2-7.7l2.1-8.2l2.1-8.7l2.1-9.2l2.1-9.8l2.1-10.2l2.1-10.8l2.1-11.3l2.1-11.7l2.1-12.3l2.1-12.7l4.2-26.9l2.1-14.2l4.2-29.5l4.2-31l6.3-48.9l6.4-51.1l14.7-121.6l6.3-50.1l4.2-31.9l4.2-30.1l2.1-14.2l2.1-13.7l2.1-13.1l2.2-12.3l2.1-11.7l2.1-10.9l2.1-10.1l2.1-9.3l2.1-8.5l2.1-7.5l2.1-6.7l2.1-5.7l2.1-4.8l2.1-3.8l2.1-2.9l2.1-1.9l2.1-0.9l2.1 0l2.1 1l2.1 1.9l2.1 2.9l2.1 3.7l2.1 4.6l2.1 5.5l2.2 6.3l2.1 7l2.1 7.8l2.1 8.5l2.1 9.1l2.1 9.7l2.1 10.3l2.1 10.7l2.1 11.2l2.1 11.6l4.2 24.1l4.2 25l10.5 63.5l6.4 37l4.2 23.4l4.2 22.2l4.2 20.8l2.1 9.8l2.1 9.4l2.1 9l2.1 8.5l2.1 8.1l2.1 7.6l2.1 7.3l2.1 6.8l2.1 6.3l2.1 6l2.1 5.5l2.1 5.2l2.1 4.8l2.1 4.4l2.2 4l2.1 3.8l2.1 3.4l2.1 3.1l2.1 2.8l2.1 2.5l2.1 2.3l2.1 2.1l2.1 1.9l2.1 1.6l2.1 1.5l2.1 1.3l2.1 1.2l2.1 1l2.1 0.9l2.1 0.8l2.1 0.7l4.2 1.1l2.1 0.5l4.3 0.7l2.1 0.3l4.2 0.4l6.3 0.4l12.6 0.4l10.5 0.1l2.1 0.1l2.1-0.1l4.3 0l2.1 0.1l2.1-0.1l2.1 0.1l4.2-0.1l8.4 0.1l2.1-0.1l2.1 0.1l4.2-0.2l2.1 0.4l4.2-0.3l2.1 0.1l2.1 0l2.1 0.1l4.3-0.2l4.2 0l2.1 0.2l2.1-0.2l2.9 0.1"/>
</g>
<path d="M123 519.7l102.2 0l69.4-0.2l52.7-0.2l44.2-0.4l37.8-0.5l16.9-0.4l16.8-0.4l14.7-0.5l12.7-0.5l12.6-0.6l12.6-0.7l12.7-0.8l12.6-1l10.5-0.9l10.5-1.1l10.6-1.3l10.5-1.4l10.5-1.7l8.4-1.5l8.4-1.7l8.5-1.8l8.4-2.1l8.4-2.4l8.4-2.6l6.3-2.1l8.5-3.1l6.3-2.6l6.3-2.8l6.3-3l6.3-3.3l6.3-3.5l6.3-3.8l6.4-4.1l6.3-4.4l4.2-3.1l6.3-5l6.3-5.3l6.3-5.8l4.2-4l6.3-6.4l4.3-4.5l6.3-7.1l4.2-5l6.3-7.9l4.2-5.5l4.2-5.7l6.3-9l4.2-6.2l6.4-9.8l4.2-6.7l6.3-10.5l4.2-7.2l4.2-7.4l4.2-7.6l6.3-11.6l8.4-15.8l21.1-40.3l8.4-15.7l6.3-11.2l4.2-7.3l4.2-6.8l4.2-6.6l4.3-6.1l2.1-2.8l2.1-2.8l2.1-2.6l2.1-2.4l2.1-2.3l2.1-2.2l2.1-2l2.1-1.8l2.1-1.6l2.1-1.5l2.1-1.2l2.1-1.1l2.1-0.9l2.1-0.6l2.1-0.4l2.1-0.2l2.1 0l2.1 0.2l2.1 0.5l2.2 0.8l2.1 0.9l2.1 1.3l2.1 1.4l2.1 1.7l2.1 2l2.1 2.2l2.1 2.5l2.1 2.7l2.1 2.9l2.1 3.2l2.1 3.5l2.1 3.7l2.1 3.9l2.1 4.1l2.1 4.4l2.1 4.6l2.1 4.8l4.2 10.1l4.3 10.9l2.1 5.7l4.2 11.9l4.2 12.3l6.3 19.2l16.8 53l4.2 13.1l4.3 12.8l4.2 12.3l4.2 11.9l4.2 11.4l4.2 10.8l4.2 10.1l2.1 4.8l4.2 9.1l2.1 4.3l2.1 4.1l2.1 3.9l2.1 3.7l2.1 3.5l2.1 3.4l2.1 3.2l2.2 3l2.1 2.8l2.1 2.7l2.1 2.5l2.1 2.3l2.1 2.2l2.1 2l2.1 1.9l2.1 1.8l2.1 1.6l2.1 1.5l2.1 1.4l2.1 1.3l2.1 1.2l2.1 1l2.1 1l4.2 1.7l2.1 0.7l4.2 1.3l2.2 0.5l4.2 0.9l2.1 0.3l4.2 0.7l6.3 0.7l6.3 0.4l8.4 0.4l10.5 0.2l23.2 0.1l78.7 0" stroke="#f00" stroke-width="4.10"/>
<path d="M123 523.1l24.3 1.2l23.1 1.3l21.1 1.4l21 1.6l21.1 1.9l18.9 1.9l19 2.2l18.9 2.5l16.9 2.5l16.8 2.8l8.4 1.5l8.4 1.6l14.8 2.9l14.7 3.3l14.7 3.6l8.5 2.2l6.3 1.7l8.4 2.4l6.3 1.9l8.4 2.6l6.3 2.1l8.5 2.9l6.3 2.2l8.4 3.1l6.3 2.4l6.3 2.6l6.3 2.6l8.5 3.6l6.3 2.8l6.3 2.9l6.3 3l6.3 3.1l6.3 3.2l6.3 3.3l6.4 3.4l10.5 5.8l12.6 7.3l10.5 6.4l12.7 8l10.5 6.9l12.6 8.4l31.6 21.7l10.5 7.1l8.4 5.6l8.4 5.4l8.5 5.1l6.3 3.7l4.2 2.3l4.2 2.2l6.3 3l4.2 1.9l4.2 1.7l4.2 1.5l4.2 1.3l4.3 1.1l4.2 0.9l4.2 0.6l4.2 0.3l4.2 0.1l2.1-0.1l2.1-0.2l2.1-0.2l2.1-0.3l2.1-0.5l2.1-0.5l2.1-0.6l2.1-0.7l2.1-0.9l2.1-0.9l2.1-1l2.2-1.2l2.1-1.2l2.1-1.4l2.1-1.5l2.1-1.6l2.1-1.8l2.1-1.9l2.1-2l2.1-2.2l2.1-2.3l2.1-2.4l2.1-2.6l2.1-2.8l2.1-2.9l2.1-3.1l2.1-3.2l2.1-3.4l2.1-3.6l2.1-3.7l2.1-3.9l2.1-4.1l4.3-8.7l4.2-9.5l4.2-10.2l4.2-11l4.2-11.8l2.1-6.2l2.1-6.3l4.2-13.4l4.2-14.1l4.2-15l4.2-15.7l4.3-16.4l4.2-17.2l4.2-17.8l4.2-18.5l4.2-19.1l4.2-19.6l4.2-20l8.4-41.1l16.9-83.5l4.2-20.4l4.2-19.9l6.3-28.8l4.2-18.1l4.2-17.1l4.2-16l2.1-7.5l2.1-7.1l2.1-6.8l2.1-6.4l2.2-6l2.1-5.6l2.1-5.2l2.1-4.7l2.1-4.2l2.1-3.8l2.1-3.3l2.1-2.8l2.1-2.3l2.1-1.8l2.1-1.2l2.1-0.8l2.1-0.2l2.1 0.4l2.1 0.8l2.1 1.4l2.1 1.9l2.1 2.5l2.1 2.9l2.1 3.5l2.2 3.9l2.1 4.5l2.1 4.9l2.1 5.4l2.1 5.8l2.1 6.3l2.1 6.7l2.1 7l2.1 7.4l2.1 7.8l4.2 16.4l4.2 17.6l6.3 27.8l4.2 19.2l12.7 58.7l4.2 19.1l4.2 18.6l4.2 18l4.2 17.1l4.2 16.2l2.1 7.7l4.2 14.6l2.1 6.8l2.1 6.6l2.1 6.3l2.1 6l2.2 5.7l2.1 5.4l2.1 5.2l2.1 4.8l2.1 4.6l2.1 4.2l2.1 4.1l2.1 3.7l2.1 3.5l2.1 3.3l2.1 3l2.1 2.8l2.1 2.6l2.1 2.3l2.1 2.2l2.1 2l2.1 1.8l2.1 1.7l2.1 1.5l2.1 1.3l2.1 1.3l2.2 1.1l2.1 1l2.1 0.9l2.1 0.7l4.2 1.4l2.1 0.5l4.2 0.9l2.1 0.4l4.2 0.6l6.3 0.7l8.4 0.5l8.5 0.2l10.5 0.2l12.6 0l74.5 0" stroke="#00f" stroke-width="2.40" stroke-dasharray="16.62 6.83"/>
<path d="M123 519.8l83.2 0.1l61.1 0.2l46.3 0.2l40 0.4l33.6 0.6l29.5 0.8l14.7 0.5l12.7 0.5l12.6 0.6l10.5 0.6l12.7 0.9l10.5 0.8l10.5 1l10.5 1.1l10.5 1.2l8.5 1.2l8.4 1.2l8.4 1.5l8.4 1.6l8.4 1.8l8.5 2l6.3 1.6l8.4 2.4l6.3 2l8.4 2.9l6.3 2.4l6.4 2.6l6.3 2.8l6.3 3l4.2 2.2l6.3 3.4l6.3 3.8l6.3 4l4.2 2.8l6.4 4.5l4.2 3.2l6.3 5.1l4.2 3.6l6.3 5.7l4.2 4.1l4.2 4.2l4.2 4.4l6.4 6.9l4.2 4.9l4.2 5.1l4.2 5.2l4.2 5.5l6.3 8.5l4.2 6l6.3 9.2l4.2 6.4l4.2 6.6l4.3 6.7l6.3 10.4l10.5 17.9l18.9 32.8l6.4 10.6l4.2 6.9l4.2 6.7l4.2 6.3l4.2 6l4.2 5.5l2.1 2.6l2.1 2.4l2.1 2.3l2.1 2.1l2.1 2l2.1 1.7l2.1 1.5l2.1 1.4l2.1 1.1l2.1 0.8l2.2 0.6l2.1 0.4l2.1 0l2.1-0.2l2.1-0.5l2.1-0.9l2.1-1.2l2.1-1.5l2.1-1.9l2.1-2.3l2.1-2.7l2.1-3.1l2.1-3.4l2.1-4l2.1-4.3l2.1-4.8l2.1-5.3l2.1-5.7l2.1-6.2l2.1-6.7l2.1-7.3l2.2-7.7l2.1-8.2l2.1-8.7l2.1-9.2l2.1-9.8l2.1-10.2l2.1-10.8l2.1-11.2l2.1-11.8l2.1-12.3l2.1-12.7l4.2-26.9l2.1-14.2l4.2-29.4l4.2-31.1l6.3-48.9l6.4-51.1l14.7-121.6l6.3-50.1l4.2-31.9l4.2-30.1l2.1-14.2l2.1-13.7l2.1-13.1l2.2-12.3l2.1-11.7l2.1-10.9l2.1-10.1l2.1-9.3l2.1-8.5l2.1-7.5l2.1-6.7l2.1-5.7l2.1-4.8l2.1-3.8l2.1-2.9l2.1-1.9l2.1-0.9l2.1 0l2.1 1l2.1 1.9l2.1 2.8l2.1 3.8l2.1 4.6l2.1 5.5l2.2 6.3l2.1 7l2.1 7.8l2.1 8.5l2.1 9.1l2.1 9.7l2.1 10.2l2.1 10.8l2.1 11.2l2.1 11.6l4.2 24.1l4.2 25l10.5 63.5l6.4 37l4.2 23.4l4.2 22.2l4.2 20.8l2.1 9.8l2.1 9.4l2.1 8.9l2.1 8.6l2.1 8.1l2.1 7.6l2.1 7.3l2.1 6.8l2.1 6.3l2.1 6l2.1 5.5l2.1 5.2l2.1 4.8l2.1 4.4l2.2 4l2.1 3.8l2.1 3.4l2.1 3.1l2.1 2.8l2.1 2.5l2.1 2.3l2.1 2.1l2.1 1.9l2.1 1.6l2.1 1.5l2.1 1.3l2.1 1.2l2.1 1l2.1 0.9l2.1 0.8l2.1 0.7l4.2 1.1l4.2 0.8l2.2 0.4l4.2 0.5l6.3 0.5l8.4 0.4l8.4 0.1l12.6 0.1l59.8 0" stroke="#000" stroke-width="4.20" stroke-dasharray="19.46 11.56 3.8 11.56 19.46 11.56"/>
</g>
<g stroke="#000" fill="none">
<rect x="123.0" y="12.3" width="1117.5" height="832.2" stroke-width="1.7"/>
<path d="M224.9 844.5 v-10.8 M224.9 12.3 v10.8 M284.5 844.5 v-10.8 M284.5 12.3 v10.8 M326.8 844.5 v-10.8 M326.8 12.3 v10.8 M359.6 844.5 v-10.8 M359.6 12.3 v10.8 M386.4 844.5 v-10.8 M386.4 12.3 v10.8 M409.1 844.5 v-10.8 M409.1 12.3 v10.8 M428.7 844.5 v-10.8 M428.7 12.3 v10.8 M446.0 844.5 v-10.8 M446.0 12.3 v10.8 M461.5 844.5 v-20.8 M461.5 12.3 v20.8 M563.4 844.5 v-10.8 M563.4 12.3 v10.8 M623.0 844.5 v-10.8 M623.0 12.3 v10.8 M665.3 844.5 v-10.8 M665.3 12.3 v10.8 M698.2 844.5 v-10.8 M698.2 12.3 v10.8 M725.0 844.5 v-10.8 M725.0 12.3 v10.8 M747.6 844.5 v-10.8 M747.6 12.3 v10.8 M767.3 844.5 v-10.8 M767.3 12.3 v10.8 M784.6 844.5 v-10.8 M784.6 12.3 v10.8 M800.1 844.5 v-20.8 M800.1 12.3 v20.8 M902.0 844.5 v-10.8 M902.0 12.3 v10.8 M961.6 844.5 v-10.8 M961.6 12.3 v10.8 M1003.9 844.5 v-10.8 M1003.9 12.3 v10.8 M1036.7 844.5 v-10.8 M1036.7 12.3 v10.8 M1063.5 844.5 v-10.8 M1063.5 12.3 v10.8 M1086.2 844.5 v-10.8 M1086.2 12.3 v10.8 M1105.8 844.5 v-10.8 M1105.8 12.3 v10.8 M1123.1 844.5 v-10.8 M1123.1 12.3 v10.8 M1138.6 844.5 v-20.8 M1138.6 12.3 v20.8 M1240.5 844.5 v-10.8 M1240.5 12.3 v10.8 M123.0 824.2 h20.8 M1240.5 824.2 h-20.8 M123.0 798.8 h10.8 M1240.5 798.8 h-10.8 M123.0 773.5 h10.8 M1240.5 773.5 h-10.8 M123.0 748.1 h10.8 M1240.5 748.1 h-10.8 M123.0 722.7 h20.8 M1240.5 722.7 h-20.8 M123.0 697.4 h10.8 M1240.5 697.4 h-10.8 M123.0 672.0 h10.8 M1240.5 672.0 h-10.8 M123.0 646.6 h10.8 M1240.5 646.6 h-10.8 M123.0 621.2 h20.8 M1240.5 621.2 h-20.8 M123.0 595.9 h10.8 M1240.5 595.9 h-10.8 M123.0 570.5 h10.8 M1240.5 570.5 h-10.8 M123.0 545.1 h10.8 M1240.5 545.1 h-10.8 M123.0 519.8 h20.8 M1240.5 519.8 h-20.8 M123.0 494.4 h10.8 M1240.5 494.4 h-10.8 M123.0 469.0 h10.8 M1240.5 469.0 h-10.8 M123.0 443.6 h10.8 M1240.5 443.6 h-10.8 M123.0 418.3 h20.8 M1240.5 418.3 h-20.8 M123.0 392.9 h10.8 M1240.5 392.9 h-10.8 M123.0 367.5 h10.8 M1240.5 367.5 h-10.8 M123.0 342.1 h10.8 M1240.5 342.1 h-10.8 M123.0 316.8 h20.8 M1240.5 316.8 h-20.8 M123.0 291.4 h10.8 M1240.5 291.4 h-10.8 M123.0 266.0 h10.8 M1240.5 266.0 h-10.8 M123.0 240.7 h10.8 M1240.5 240.7 h-10.8 M123.0 215.3 h20.8 M1240.5 215.3 h-20.8 M123.0 189.9 h10.8 M1240.5 189.9 h-10.8 M123.0 164.5 h10.8 M1240.5 164.5 h-10.8 M123.0 139.2 h10.8 M1240.5 139.2 h-10.8 M123.0 113.8 h20.8 M1240.5 113.8 h-20.8 M123.0 88.4 h10.8 M1240.5 88.4 h-10.8 M123.0 63.0 h10.8 M1240.5 63.0 h-10.8 M123.0 37.7 h10.8 M1240.5 37.7 h-10.8" stroke-width="1.6"/>
</g>
<g font-family="'Liberation Serif', serif" fill="#000" style="will-change:transform">
<text x="114.0" y="834.2" font-size="30" text-anchor="end">-3</text>
<text x="114.0" y="732.7" font-size="30" text-anchor="end">-2</text>
<text x="114.0" y="631.2" font-size="30" text-anchor="end">-1</text>
<text x="114.0" y="529.8" font-size="30" text-anchor="end">0</text>
<text x="114.0" y="428.3" font-size="30" text-anchor="end">1</text>
<text x="114.0" y="326.8" font-size="30" text-anchor="end">2</text>
<text x="114.0" y="225.3" font-size="30" text-anchor="end">3</text>
<text x="114.0" y="123.8" font-size="30" text-anchor="end">4</text>
<text x="114.0" y="22.3" font-size="30" text-anchor="end">5</text>
<text x="124.0" y="875.4" font-size="30" text-anchor="middle">1</text>
<text x="462.5" y="875.4" font-size="30" text-anchor="middle">10</text>
<text x="801.1" y="875.4" font-size="30" text-anchor="middle">100</text>
<text x="1139.6" y="875.4" font-size="30" text-anchor="middle">1000</text>
<text x="624.6" y="909.7" font-size="38.5">ν</text><text x="653.0" y="909.7" font-size="35">[GHz]</text>
<g transform="translate(42.5 683.5) rotate(-90)" stroke="#000" stroke-width="0.35">
<text x="0.3" y="0.0" font-size="35.0" font-style="italic">G</text>
<text x="24.3" y="13.0" font-size="24.5">th</text>
<text x="44.5" y="0.0" font-size="35.0">(</text>
<text x="57.0" y="0.0" font-size="38.5">ν</text>
<text x="73.5" y="0.0" font-size="35.0">,</text>
<text x="90.5" y="0.0" font-size="35.0" font-style="italic">z</text>
<text x="102.8" y="13.0" font-size="24.5">h</text>
<text x="115.0" y="0.0" font-size="35.0">,</text>
<text x="131.5" y="0.0" font-size="35.0">0)</text>
<text x="182.0" y="0.0" font-size="35.0">[</text>
<text x="201.0" y="0.0" font-size="35.0">10</text>
<text x="237.5" y="-21.8" font-size="25.5">-18</text>
<text x="280.3" y="0.0" font-size="35.0">W</text>
<text x="320.5" y="0.0" font-size="35.0">m</text>
<text x="347.7" y="-21.8" font-size="25.5">-2</text>
<text x="379.5" y="0.0" font-size="35.0">Hz</text>
<text x="418.6" y="-21.8" font-size="25.5">-1</text>
<text x="448.5" y="0.0" font-size="35.0">sr</text>
<text x="474.2" y="-21.8" font-size="25.5">-1</text>
<text x="502.5" y="0.0" font-size="35.0">]</text>
</g>
<text x="343.5" y="97.2" font-size="32">temperature-shift</text>
<text x="343.5" y="148.4" font-size="32" letter-spacing="0.06">μ-distortion at</text>
<text x="535.7" y="148.4" font-size="32" font-style="italic">z</text>
<text x="548.0" y="161.2" font-size="22">h</text>
<text x="567.2" y="151.4" font-size="32">~</text>
<text x="593.0" y="148.4" font-size="32">3</text>
<text x="617.6" y="148.4" font-size="30" font-family="'Liberation Sans', sans-serif">x</text>
<text x="643.0" y="148.4" font-size="32">10</text>
<text x="673.4" y="129.7" font-size="22.6">5</text>
<text x="345.5" y="194.6" font-size="32" font-style="italic">y</text><text x="358.6" y="194.6" font-size="32">-distortion</text>
<text transform="translate(758.6 403.7) rotate(-60)" font-size="31.7" fill="#f00">temperature shift</text>
<text transform="translate(469.5 611.5) rotate(30.4)" font-size="32.3" fill="#00f" stroke="#00f" stroke-width="0.3" font-style="italic">μ-distortion</text>
<text transform="translate(931.3 617) rotate(-82.3)" font-size="32"><tspan font-style="italic">y</tspan>-distortion</text>
</g>
<g fill="none">
<path d="M198 88.9 H323" stroke="#f00" stroke-width="4.1"/>
<path d="M198 138 H323" stroke="#00f" stroke-width="2.4" stroke-dasharray="16.62 6.83"/>
<path d="M198 186.2 H323" stroke="#000" stroke-width="4.2" stroke-dasharray="19.46 11.56 3.8 11.56 19.46 11.56"/>
</g>
</svg>
</body></html>
